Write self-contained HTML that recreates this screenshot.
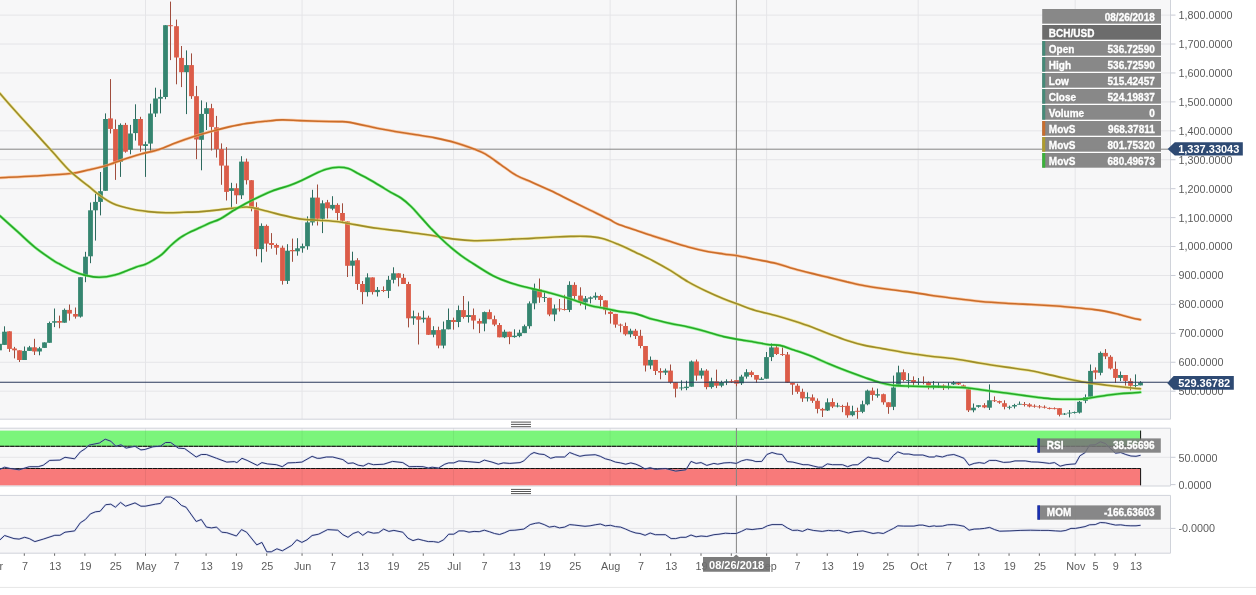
<!DOCTYPE html>
<html><head><meta charset="utf-8"><title>BCH/USD</title>
<style>html,body{margin:0;padding:0;background:#fff;}body{width:1256px;height:595px;overflow:hidden;font-family:"Liberation Sans",sans-serif;}svg{display:block;filter:blur(0.3px)}text{font-family:"Liberation Sans",sans-serif;}</style>
</head><body>
<svg width="1256" height="595" viewBox="0 0 1256 595">
<defs>
<clipPath id="cm"><rect x="0" y="0" width="1170.5" height="419"/></clipPath>
<clipPath id="cr"><rect x="0" y="428" width="1170.5" height="58"/></clipPath>
<clipPath id="co"><rect x="0" y="495.5" width="1170.5" height="57.5"/></clipPath>
<filter id="bl" x="-5%" y="-5%" width="110%" height="110%"><feGaussianBlur stdDeviation="0.3"/></filter>
</defs>
<rect x="0" y="0" width="1256" height="595" fill="#ffffff"/>
<rect x="0" y="0" width="1170.5" height="419" fill="#f7f7f8"/>
<rect x="0" y="428" width="1170.5" height="58" fill="#f7f7f8"/>
<rect x="0" y="495.5" width="1170.5" height="57.5" fill="#f7f7f8"/>
<g stroke="#e5e5e8" stroke-width="1" fill="none">
<line x1="0" y1="15.10" x2="1170.5" y2="15.10"/>
<line x1="0" y1="44.03" x2="1170.5" y2="44.03"/>
<line x1="0" y1="72.96" x2="1170.5" y2="72.96"/>
<line x1="0" y1="101.89" x2="1170.5" y2="101.89"/>
<line x1="0" y1="130.82" x2="1170.5" y2="130.82"/>
<line x1="0" y1="159.75" x2="1170.5" y2="159.75"/>
<line x1="0" y1="188.68" x2="1170.5" y2="188.68"/>
<line x1="0" y1="217.61" x2="1170.5" y2="217.61"/>
<line x1="0" y1="246.54" x2="1170.5" y2="246.54"/>
<line x1="0" y1="275.47" x2="1170.5" y2="275.47"/>
<line x1="0" y1="304.40" x2="1170.5" y2="304.40"/>
<line x1="0" y1="333.33" x2="1170.5" y2="333.33"/>
<line x1="0" y1="362.26" x2="1170.5" y2="362.26"/>
<line x1="0" y1="391.19" x2="1170.5" y2="391.19"/>
<line x1="145.50" y1="0" x2="145.50" y2="419"/>
<line x1="145.50" y1="428" x2="145.50" y2="486"/>
<line x1="145.50" y1="495.5" x2="145.50" y2="553"/>
<line x1="302.05" y1="0" x2="302.05" y2="419"/>
<line x1="302.05" y1="428" x2="302.05" y2="486"/>
<line x1="302.05" y1="495.5" x2="302.05" y2="553"/>
<line x1="453.55" y1="0" x2="453.55" y2="419"/>
<line x1="453.55" y1="428" x2="453.55" y2="486"/>
<line x1="453.55" y1="495.5" x2="453.55" y2="553"/>
<line x1="610.10" y1="0" x2="610.10" y2="419"/>
<line x1="610.10" y1="428" x2="610.10" y2="486"/>
<line x1="610.10" y1="495.5" x2="610.10" y2="553"/>
<line x1="766.65" y1="0" x2="766.65" y2="419"/>
<line x1="766.65" y1="428" x2="766.65" y2="486"/>
<line x1="766.65" y1="495.5" x2="766.65" y2="553"/>
<line x1="918.15" y1="0" x2="918.15" y2="419"/>
<line x1="918.15" y1="428" x2="918.15" y2="486"/>
<line x1="918.15" y1="495.5" x2="918.15" y2="553"/>
<line x1="1075.20" y1="0" x2="1075.20" y2="419"/>
<line x1="1075.20" y1="428" x2="1075.20" y2="486"/>
<line x1="1075.20" y1="495.5" x2="1075.20" y2="553"/>
<line x1="0" y1="457.3" x2="1170.5" y2="457.3"/>
<line x1="0" y1="528.4" x2="1170.5" y2="528.4"/>
</g>
<g stroke="#d0d3da" stroke-width="1" fill="none">
<line x1="0" y1="419.2" x2="1170.5" y2="419.2"/>
<line x1="1170.5" y1="0" x2="1170.5" y2="419.2"/>
<line x1="0" y1="428.2" x2="1170.5" y2="428.2"/>
<line x1="0" y1="486" x2="1170.5" y2="486"/>
<line x1="1170.5" y1="428.2" x2="1170.5" y2="486"/>
<line x1="0" y1="495.4" x2="1170.5" y2="495.4"/>
<line x1="0" y1="553.2" x2="1170.5" y2="553.2"/>
<line x1="1170.5" y1="495.4" x2="1170.5" y2="553.2"/>
</g>
<rect x="0" y="430.6" width="1140.6" height="15.7" fill="#7bf57b"/>
<rect x="0" y="468.5" width="1140.6" height="16.8" fill="#f87a7a"/>
<g stroke="#000" stroke-opacity="0.06" stroke-width="1">
<line x1="145.50" y1="430.6" x2="145.50" y2="446.3"/>
<line x1="145.50" y1="468.5" x2="145.50" y2="485.3"/>
<line x1="302.05" y1="430.6" x2="302.05" y2="446.3"/>
<line x1="302.05" y1="468.5" x2="302.05" y2="485.3"/>
<line x1="453.55" y1="430.6" x2="453.55" y2="446.3"/>
<line x1="453.55" y1="468.5" x2="453.55" y2="485.3"/>
<line x1="610.10" y1="430.6" x2="610.10" y2="446.3"/>
<line x1="610.10" y1="468.5" x2="610.10" y2="485.3"/>
<line x1="766.65" y1="430.6" x2="766.65" y2="446.3"/>
<line x1="766.65" y1="468.5" x2="766.65" y2="485.3"/>
<line x1="918.15" y1="430.6" x2="918.15" y2="446.3"/>
<line x1="918.15" y1="468.5" x2="918.15" y2="485.3"/>
<line x1="1075.20" y1="430.6" x2="1075.20" y2="446.3"/>
<line x1="1075.20" y1="468.5" x2="1075.20" y2="485.3"/>
</g>
<g stroke="#111" stroke-width="1">
<line x1="0" y1="446.3" x2="1140.6" y2="446.3" stroke-opacity="0.6"/>
<line x1="0" y1="468.5" x2="1140.6" y2="468.5" stroke-opacity="0.6"/>
<line x1="0" y1="446.3" x2="1140.6" y2="446.3" stroke-dasharray="4.3 0.8"/>
<line x1="0" y1="468.5" x2="1140.6" y2="468.5" stroke-dasharray="4.3 0.8"/>
<line x1="1140.6" y1="430.6" x2="1140.6" y2="446.3"/>
<line x1="1140.6" y1="468.5" x2="1140.6" y2="485.3"/>
</g>
<g stroke="#858585" stroke-width="1">
<line x1="0" y1="149.2" x2="1168" y2="149.2"/>
<line x1="736.4" y1="0" x2="736.4" y2="419"/>
<line x1="736.4" y1="428" x2="736.4" y2="486"/>
<line x1="736.4" y1="495.5" x2="736.4" y2="553"/>
</g>
<g clip-path="url(#cm)">
<line x1="-0.50" y1="343.8" x2="-0.50" y2="350.3" stroke="#2d6a5e" stroke-width="1"/>
<line x1="4.50" y1="326.3" x2="4.50" y2="344.9" stroke="#2d6a5e" stroke-width="1"/>
<line x1="9.50" y1="331.3" x2="9.50" y2="351.9" stroke="#a04d3e" stroke-width="1"/>
<line x1="14.50" y1="346.9" x2="14.50" y2="358.4" stroke="#a04d3e" stroke-width="1"/>
<line x1="19.50" y1="350.3" x2="19.50" y2="362.0" stroke="#a04d3e" stroke-width="1"/>
<line x1="24.50" y1="346.5" x2="24.50" y2="360.0" stroke="#2d6a5e" stroke-width="1"/>
<line x1="29.50" y1="345.9" x2="29.50" y2="350.9" stroke="#2d6a5e" stroke-width="1"/>
<line x1="34.50" y1="338.8" x2="34.50" y2="355.0" stroke="#a04d3e" stroke-width="1"/>
<line x1="39.50" y1="346.9" x2="39.50" y2="355.3" stroke="#2d6a5e" stroke-width="1"/>
<line x1="44.50" y1="342.4" x2="44.50" y2="347.9" stroke="#2d6a5e" stroke-width="1"/>
<line x1="49.50" y1="321.6" x2="49.50" y2="342.8" stroke="#2d6a5e" stroke-width="1"/>
<line x1="54.50" y1="308.5" x2="54.50" y2="327.1" stroke="#2d6a5e" stroke-width="1"/>
<line x1="59.50" y1="315.6" x2="59.50" y2="328.3" stroke="#a04d3e" stroke-width="1"/>
<line x1="64.50" y1="308.5" x2="64.50" y2="322.7" stroke="#2d6a5e" stroke-width="1"/>
<line x1="69.50" y1="304.5" x2="69.50" y2="320.6" stroke="#a04d3e" stroke-width="1"/>
<line x1="75.50" y1="307.5" x2="75.50" y2="318.6" stroke="#a04d3e" stroke-width="1"/>
<line x1="80.50" y1="277.2" x2="80.50" y2="317.6" stroke="#2d6a5e" stroke-width="1"/>
<line x1="85.50" y1="251.8" x2="85.50" y2="282.2" stroke="#2d6a5e" stroke-width="1"/>
<line x1="90.50" y1="202.5" x2="90.50" y2="263.2" stroke="#2d6a5e" stroke-width="1"/>
<line x1="95.50" y1="193.8" x2="95.50" y2="240.6" stroke="#2d6a5e" stroke-width="1"/>
<line x1="100.50" y1="172.0" x2="100.50" y2="215.4" stroke="#2d6a5e" stroke-width="1"/>
<line x1="105.50" y1="113.4" x2="105.50" y2="190.8" stroke="#2d6a5e" stroke-width="1"/>
<line x1="110.50" y1="79.1" x2="110.50" y2="133.5" stroke="#a04d3e" stroke-width="1"/>
<line x1="115.50" y1="119.5" x2="115.50" y2="179.9" stroke="#a04d3e" stroke-width="1"/>
<line x1="120.50" y1="123.4" x2="120.50" y2="176.9" stroke="#2d6a5e" stroke-width="1"/>
<line x1="125.50" y1="122.9" x2="125.50" y2="152.7" stroke="#a04d3e" stroke-width="1"/>
<line x1="130.50" y1="124.9" x2="130.50" y2="154.3" stroke="#2d6a5e" stroke-width="1"/>
<line x1="135.50" y1="104.3" x2="135.50" y2="140.6" stroke="#2d6a5e" stroke-width="1"/>
<line x1="140.50" y1="116.8" x2="140.50" y2="151.7" stroke="#a04d3e" stroke-width="1"/>
<line x1="145.50" y1="141.6" x2="145.50" y2="176.9" stroke="#2d6a5e" stroke-width="1"/>
<line x1="150.50" y1="103.7" x2="150.50" y2="151.7" stroke="#2d6a5e" stroke-width="1"/>
<line x1="155.50" y1="87.7" x2="155.50" y2="117.0" stroke="#2d6a5e" stroke-width="1"/>
<line x1="160.50" y1="89.5" x2="160.50" y2="113.4" stroke="#2d6a5e" stroke-width="1"/>
<line x1="165.50" y1="25.2" x2="165.50" y2="99.2" stroke="#2d6a5e" stroke-width="1"/>
<line x1="170.50" y1="1.6" x2="170.50" y2="60.1" stroke="#a04d3e" stroke-width="1"/>
<line x1="176.50" y1="19.6" x2="176.50" y2="84.3" stroke="#a04d3e" stroke-width="1"/>
<line x1="181.50" y1="46.0" x2="181.50" y2="87.1" stroke="#a04d3e" stroke-width="1"/>
<line x1="186.50" y1="50.4" x2="186.50" y2="114.1" stroke="#2d6a5e" stroke-width="1"/>
<line x1="191.50" y1="53.4" x2="191.50" y2="98.9" stroke="#a04d3e" stroke-width="1"/>
<line x1="196.50" y1="85.9" x2="196.50" y2="159.2" stroke="#a04d3e" stroke-width="1"/>
<line x1="201.50" y1="100.4" x2="201.50" y2="170.3" stroke="#2d6a5e" stroke-width="1"/>
<line x1="206.50" y1="102.3" x2="206.50" y2="130.0" stroke="#2d6a5e" stroke-width="1"/>
<line x1="211.50" y1="103.8" x2="211.50" y2="150.5" stroke="#a04d3e" stroke-width="1"/>
<line x1="216.50" y1="115.9" x2="216.50" y2="157.6" stroke="#a04d3e" stroke-width="1"/>
<line x1="221.50" y1="143.4" x2="221.50" y2="184.8" stroke="#a04d3e" stroke-width="1"/>
<line x1="226.50" y1="147.1" x2="226.50" y2="200.5" stroke="#a04d3e" stroke-width="1"/>
<line x1="231.50" y1="182.8" x2="231.50" y2="209.2" stroke="#2d6a5e" stroke-width="1"/>
<line x1="236.50" y1="183.4" x2="236.50" y2="203.9" stroke="#a04d3e" stroke-width="1"/>
<line x1="241.50" y1="156.2" x2="241.50" y2="199.0" stroke="#2d6a5e" stroke-width="1"/>
<line x1="246.50" y1="158.6" x2="246.50" y2="184.5" stroke="#a04d3e" stroke-width="1"/>
<line x1="251.50" y1="180.2" x2="251.50" y2="211.3" stroke="#a04d3e" stroke-width="1"/>
<line x1="256.50" y1="202.3" x2="256.50" y2="256.3" stroke="#a04d3e" stroke-width="1"/>
<line x1="261.50" y1="223.4" x2="261.50" y2="262.4" stroke="#2d6a5e" stroke-width="1"/>
<line x1="266.50" y1="224.5" x2="266.50" y2="251.7" stroke="#a04d3e" stroke-width="1"/>
<line x1="271.50" y1="233.1" x2="271.50" y2="248.7" stroke="#a04d3e" stroke-width="1"/>
<line x1="276.50" y1="243.6" x2="276.50" y2="254.7" stroke="#a04d3e" stroke-width="1"/>
<line x1="282.50" y1="245.6" x2="282.50" y2="284.6" stroke="#a04d3e" stroke-width="1"/>
<line x1="287.50" y1="244.2" x2="287.50" y2="284.0" stroke="#2d6a5e" stroke-width="1"/>
<line x1="292.50" y1="238.6" x2="292.50" y2="261.8" stroke="#a04d3e" stroke-width="1"/>
<line x1="297.50" y1="238.2" x2="297.50" y2="255.7" stroke="#2d6a5e" stroke-width="1"/>
<line x1="302.50" y1="243.6" x2="302.50" y2="252.7" stroke="#2d6a5e" stroke-width="1"/>
<line x1="307.50" y1="216.4" x2="307.50" y2="249.7" stroke="#2d6a5e" stroke-width="1"/>
<line x1="312.50" y1="189.8" x2="312.50" y2="225.5" stroke="#2d6a5e" stroke-width="1"/>
<line x1="317.50" y1="184.5" x2="317.50" y2="225.5" stroke="#a04d3e" stroke-width="1"/>
<line x1="322.50" y1="200.3" x2="322.50" y2="233.1" stroke="#2d6a5e" stroke-width="1"/>
<line x1="327.50" y1="199.9" x2="327.50" y2="218.4" stroke="#a04d3e" stroke-width="1"/>
<line x1="332.50" y1="196.2" x2="332.50" y2="210.3" stroke="#2d6a5e" stroke-width="1"/>
<line x1="337.50" y1="203.3" x2="337.50" y2="220.4" stroke="#a04d3e" stroke-width="1"/>
<line x1="342.50" y1="203.3" x2="342.50" y2="222.4" stroke="#a04d3e" stroke-width="1"/>
<line x1="347.50" y1="221.4" x2="347.50" y2="277.0" stroke="#a04d3e" stroke-width="1"/>
<line x1="352.50" y1="251.7" x2="352.50" y2="276.3" stroke="#2d6a5e" stroke-width="1"/>
<line x1="357.50" y1="258.2" x2="357.50" y2="289.9" stroke="#a04d3e" stroke-width="1"/>
<line x1="362.50" y1="281.0" x2="362.50" y2="304.2" stroke="#a04d3e" stroke-width="1"/>
<line x1="367.50" y1="273.3" x2="367.50" y2="296.5" stroke="#2d6a5e" stroke-width="1"/>
<line x1="372.50" y1="277.4" x2="372.50" y2="294.5" stroke="#a04d3e" stroke-width="1"/>
<line x1="377.50" y1="287.0" x2="377.50" y2="296.5" stroke="#2d6a5e" stroke-width="1"/>
<line x1="383.50" y1="286.4" x2="383.50" y2="292.1" stroke="#a04d3e" stroke-width="1"/>
<line x1="388.50" y1="275.9" x2="388.50" y2="298.1" stroke="#2d6a5e" stroke-width="1"/>
<line x1="393.50" y1="267.3" x2="393.50" y2="283.4" stroke="#2d6a5e" stroke-width="1"/>
<line x1="398.50" y1="273.3" x2="398.50" y2="286.4" stroke="#a04d3e" stroke-width="1"/>
<line x1="403.50" y1="273.9" x2="403.50" y2="284.0" stroke="#a04d3e" stroke-width="1"/>
<line x1="408.50" y1="281.8" x2="408.50" y2="327.4" stroke="#a04d3e" stroke-width="1"/>
<line x1="413.50" y1="310.6" x2="413.50" y2="324.8" stroke="#2d6a5e" stroke-width="1"/>
<line x1="418.50" y1="312.7" x2="418.50" y2="344.5" stroke="#a04d3e" stroke-width="1"/>
<line x1="423.50" y1="310.6" x2="423.50" y2="322.7" stroke="#2d6a5e" stroke-width="1"/>
<line x1="428.50" y1="315.7" x2="428.50" y2="334.8" stroke="#a04d3e" stroke-width="1"/>
<line x1="433.50" y1="326.2" x2="433.50" y2="337.3" stroke="#2d6a5e" stroke-width="1"/>
<line x1="438.50" y1="326.7" x2="438.50" y2="348.3" stroke="#a04d3e" stroke-width="1"/>
<line x1="443.50" y1="321.5" x2="443.50" y2="348.4" stroke="#2d6a5e" stroke-width="1"/>
<line x1="448.50" y1="308.5" x2="448.50" y2="329.3" stroke="#2d6a5e" stroke-width="1"/>
<line x1="453.50" y1="317.6" x2="453.50" y2="329.7" stroke="#a04d3e" stroke-width="1"/>
<line x1="458.50" y1="305.5" x2="458.50" y2="327.2" stroke="#2d6a5e" stroke-width="1"/>
<line x1="463.50" y1="296.0" x2="463.50" y2="318.6" stroke="#a04d3e" stroke-width="1"/>
<line x1="468.50" y1="301.4" x2="468.50" y2="322.6" stroke="#2d6a5e" stroke-width="1"/>
<line x1="473.50" y1="308.5" x2="473.50" y2="329.3" stroke="#a04d3e" stroke-width="1"/>
<line x1="479.50" y1="318.6" x2="479.50" y2="333.1" stroke="#a04d3e" stroke-width="1"/>
<line x1="484.50" y1="311.5" x2="484.50" y2="331.3" stroke="#2d6a5e" stroke-width="1"/>
<line x1="489.50" y1="309.5" x2="489.50" y2="319.2" stroke="#a04d3e" stroke-width="1"/>
<line x1="494.50" y1="315.6" x2="494.50" y2="326.2" stroke="#a04d3e" stroke-width="1"/>
<line x1="499.50" y1="323.0" x2="499.50" y2="337.3" stroke="#a04d3e" stroke-width="1"/>
<line x1="504.50" y1="329.7" x2="504.50" y2="338.1" stroke="#2d6a5e" stroke-width="1"/>
<line x1="509.50" y1="331.7" x2="509.50" y2="344.2" stroke="#a04d3e" stroke-width="1"/>
<line x1="514.50" y1="329.3" x2="514.50" y2="337.7" stroke="#2d6a5e" stroke-width="1"/>
<line x1="519.50" y1="329.7" x2="519.50" y2="337.3" stroke="#2d6a5e" stroke-width="1"/>
<line x1="524.50" y1="324.6" x2="524.50" y2="333.1" stroke="#2d6a5e" stroke-width="1"/>
<line x1="529.50" y1="301.4" x2="529.50" y2="328.7" stroke="#2d6a5e" stroke-width="1"/>
<line x1="534.50" y1="283.6" x2="534.50" y2="309.3" stroke="#2d6a5e" stroke-width="1"/>
<line x1="539.50" y1="278.5" x2="539.50" y2="302.8" stroke="#a04d3e" stroke-width="1"/>
<line x1="544.50" y1="292.0" x2="544.50" y2="302.0" stroke="#2d6a5e" stroke-width="1"/>
<line x1="549.50" y1="297.8" x2="549.50" y2="316.2" stroke="#a04d3e" stroke-width="1"/>
<line x1="554.50" y1="304.5" x2="554.50" y2="321.2" stroke="#2d6a5e" stroke-width="1"/>
<line x1="559.50" y1="299.0" x2="559.50" y2="311.5" stroke="#a04d3e" stroke-width="1"/>
<line x1="564.50" y1="294.8" x2="564.50" y2="310.5" stroke="#a04d3e" stroke-width="1"/>
<line x1="569.50" y1="281.3" x2="569.50" y2="312.1" stroke="#2d6a5e" stroke-width="1"/>
<line x1="574.50" y1="282.3" x2="574.50" y2="299.4" stroke="#a04d3e" stroke-width="1"/>
<line x1="580.50" y1="287.3" x2="580.50" y2="305.5" stroke="#a04d3e" stroke-width="1"/>
<line x1="585.50" y1="296.0" x2="585.50" y2="309.5" stroke="#2d6a5e" stroke-width="1"/>
<line x1="590.50" y1="296.4" x2="590.50" y2="303.4" stroke="#2d6a5e" stroke-width="1"/>
<line x1="595.50" y1="292.4" x2="595.50" y2="299.8" stroke="#2d6a5e" stroke-width="1"/>
<line x1="600.50" y1="294.8" x2="600.50" y2="306.9" stroke="#a04d3e" stroke-width="1"/>
<line x1="605.50" y1="300.4" x2="605.50" y2="314.5" stroke="#a04d3e" stroke-width="1"/>
<line x1="610.50" y1="310.5" x2="610.50" y2="323.6" stroke="#a04d3e" stroke-width="1"/>
<line x1="615.50" y1="313.9" x2="615.50" y2="327.7" stroke="#a04d3e" stroke-width="1"/>
<line x1="620.50" y1="323.6" x2="620.50" y2="332.3" stroke="#a04d3e" stroke-width="1"/>
<line x1="625.50" y1="322.6" x2="625.50" y2="335.7" stroke="#a04d3e" stroke-width="1"/>
<line x1="630.50" y1="328.7" x2="630.50" y2="337.3" stroke="#2d6a5e" stroke-width="1"/>
<line x1="635.50" y1="328.9" x2="635.50" y2="339.0" stroke="#a04d3e" stroke-width="1"/>
<line x1="640.50" y1="329.8" x2="640.50" y2="348.3" stroke="#a04d3e" stroke-width="1"/>
<line x1="645.50" y1="346.0" x2="645.50" y2="371.5" stroke="#a04d3e" stroke-width="1"/>
<line x1="650.50" y1="356.5" x2="650.50" y2="369.2" stroke="#2d6a5e" stroke-width="1"/>
<line x1="655.50" y1="359.9" x2="655.50" y2="375.0" stroke="#a04d3e" stroke-width="1"/>
<line x1="660.50" y1="368.2" x2="660.50" y2="379.3" stroke="#a04d3e" stroke-width="1"/>
<line x1="665.50" y1="368.6" x2="665.50" y2="375.0" stroke="#2d6a5e" stroke-width="1"/>
<line x1="670.50" y1="364.5" x2="670.50" y2="383.7" stroke="#a04d3e" stroke-width="1"/>
<line x1="675.50" y1="382.3" x2="675.50" y2="397.4" stroke="#a04d3e" stroke-width="1"/>
<line x1="681.50" y1="380.3" x2="681.50" y2="390.4" stroke="#2d6a5e" stroke-width="1"/>
<line x1="686.50" y1="380.7" x2="686.50" y2="390.2" stroke="#2d6a5e" stroke-width="1"/>
<line x1="691.50" y1="360.5" x2="691.50" y2="386.7" stroke="#2d6a5e" stroke-width="1"/>
<line x1="696.50" y1="359.5" x2="696.50" y2="380.7" stroke="#a04d3e" stroke-width="1"/>
<line x1="701.50" y1="368.2" x2="701.50" y2="378.7" stroke="#2d6a5e" stroke-width="1"/>
<line x1="706.50" y1="369.2" x2="706.50" y2="389.3" stroke="#a04d3e" stroke-width="1"/>
<line x1="711.50" y1="377.7" x2="711.50" y2="388.7" stroke="#2d6a5e" stroke-width="1"/>
<line x1="716.50" y1="369.6" x2="716.50" y2="388.1" stroke="#a04d3e" stroke-width="1"/>
<line x1="721.50" y1="380.7" x2="721.50" y2="387.3" stroke="#2d6a5e" stroke-width="1"/>
<line x1="726.50" y1="379.3" x2="726.50" y2="385.1" stroke="#2d6a5e" stroke-width="1"/>
<line x1="731.50" y1="379.3" x2="731.50" y2="382.7" stroke="#a04d3e" stroke-width="1"/>
<line x1="736.50" y1="380.1" x2="736.50" y2="386.2" stroke="#a04d3e" stroke-width="1"/>
<line x1="741.50" y1="374.8" x2="741.50" y2="385.0" stroke="#2d6a5e" stroke-width="1"/>
<line x1="746.50" y1="369.2" x2="746.50" y2="378.7" stroke="#2d6a5e" stroke-width="1"/>
<line x1="751.50" y1="370.6" x2="751.50" y2="377.2" stroke="#a04d3e" stroke-width="1"/>
<line x1="756.50" y1="375.0" x2="756.50" y2="382.7" stroke="#a04d3e" stroke-width="1"/>
<line x1="761.50" y1="377.2" x2="761.50" y2="379.9" stroke="#2d6a5e" stroke-width="1"/>
<line x1="766.50" y1="352.0" x2="766.50" y2="378.7" stroke="#2d6a5e" stroke-width="1"/>
<line x1="771.50" y1="343.4" x2="771.50" y2="361.1" stroke="#2d6a5e" stroke-width="1"/>
<line x1="776.50" y1="346.0" x2="776.50" y2="355.0" stroke="#a04d3e" stroke-width="1"/>
<line x1="782.50" y1="347.4" x2="782.50" y2="355.9" stroke="#a04d3e" stroke-width="1"/>
<line x1="787.50" y1="352.0" x2="787.50" y2="382.7" stroke="#a04d3e" stroke-width="1"/>
<line x1="792.50" y1="382.7" x2="792.50" y2="394.8" stroke="#a04d3e" stroke-width="1"/>
<line x1="797.50" y1="383.7" x2="797.50" y2="393.8" stroke="#a04d3e" stroke-width="1"/>
<line x1="802.50" y1="388.7" x2="802.50" y2="401.9" stroke="#a04d3e" stroke-width="1"/>
<line x1="807.50" y1="392.4" x2="807.50" y2="401.5" stroke="#2d6a5e" stroke-width="1"/>
<line x1="812.50" y1="394.4" x2="812.50" y2="402.9" stroke="#a04d3e" stroke-width="1"/>
<line x1="817.50" y1="398.4" x2="817.50" y2="413.4" stroke="#a04d3e" stroke-width="1"/>
<line x1="822.50" y1="407.9" x2="822.50" y2="417.0" stroke="#a04d3e" stroke-width="1"/>
<line x1="827.50" y1="398.4" x2="827.50" y2="411.0" stroke="#2d6a5e" stroke-width="1"/>
<line x1="832.50" y1="398.3" x2="832.50" y2="408.1" stroke="#a04d3e" stroke-width="1"/>
<line x1="837.50" y1="402.8" x2="837.50" y2="407.4" stroke="#2d6a5e" stroke-width="1"/>
<line x1="842.50" y1="404.8" x2="842.50" y2="412.2" stroke="#a04d3e" stroke-width="1"/>
<line x1="847.50" y1="402.4" x2="847.50" y2="417.7" stroke="#a04d3e" stroke-width="1"/>
<line x1="852.50" y1="405.7" x2="852.50" y2="416.4" stroke="#2d6a5e" stroke-width="1"/>
<line x1="857.50" y1="407.7" x2="857.50" y2="418.8" stroke="#a04d3e" stroke-width="1"/>
<line x1="862.50" y1="400.7" x2="862.50" y2="413.2" stroke="#2d6a5e" stroke-width="1"/>
<line x1="867.50" y1="389.6" x2="867.50" y2="405.3" stroke="#2d6a5e" stroke-width="1"/>
<line x1="872.50" y1="387.6" x2="872.50" y2="400.7" stroke="#a04d3e" stroke-width="1"/>
<line x1="877.50" y1="388.6" x2="877.50" y2="397.7" stroke="#2d6a5e" stroke-width="1"/>
<line x1="883.50" y1="393.6" x2="883.50" y2="404.7" stroke="#a04d3e" stroke-width="1"/>
<line x1="888.50" y1="402.3" x2="888.50" y2="413.8" stroke="#a04d3e" stroke-width="1"/>
<line x1="893.50" y1="375.6" x2="893.50" y2="410.1" stroke="#2d6a5e" stroke-width="1"/>
<line x1="898.50" y1="365.7" x2="898.50" y2="385.5" stroke="#2d6a5e" stroke-width="1"/>
<line x1="903.50" y1="369.4" x2="903.50" y2="381.5" stroke="#a04d3e" stroke-width="1"/>
<line x1="908.50" y1="373.2" x2="908.50" y2="388.2" stroke="#2d6a5e" stroke-width="1"/>
<line x1="913.50" y1="376.4" x2="913.50" y2="385.6" stroke="#a04d3e" stroke-width="1"/>
<line x1="918.50" y1="378.0" x2="918.50" y2="385.4" stroke="#2d6a5e" stroke-width="1"/>
<line x1="923.50" y1="376.4" x2="923.50" y2="384.4" stroke="#a04d3e" stroke-width="1"/>
<line x1="928.50" y1="381.5" x2="928.50" y2="389.4" stroke="#a04d3e" stroke-width="1"/>
<line x1="933.50" y1="381.0" x2="933.50" y2="389.4" stroke="#2d6a5e" stroke-width="1"/>
<line x1="938.50" y1="382.6" x2="938.50" y2="388.0" stroke="#2d6a5e" stroke-width="1"/>
<line x1="943.50" y1="384.4" x2="943.50" y2="390.0" stroke="#a04d3e" stroke-width="1"/>
<line x1="948.50" y1="382.6" x2="948.50" y2="389.4" stroke="#2d6a5e" stroke-width="1"/>
<line x1="953.50" y1="381.1" x2="953.50" y2="385.0" stroke="#2d6a5e" stroke-width="1"/>
<line x1="958.50" y1="382.0" x2="958.50" y2="385.0" stroke="#a04d3e" stroke-width="1"/>
<line x1="963.50" y1="384.6" x2="963.50" y2="388.0" stroke="#a04d3e" stroke-width="1"/>
<line x1="968.50" y1="388.1" x2="968.50" y2="412.0" stroke="#a04d3e" stroke-width="1"/>
<line x1="973.50" y1="403.5" x2="973.50" y2="412.3" stroke="#2d6a5e" stroke-width="1"/>
<line x1="978.50" y1="405.2" x2="978.50" y2="407.7" stroke="#2d6a5e" stroke-width="1"/>
<line x1="984.50" y1="403.2" x2="984.50" y2="408.2" stroke="#a04d3e" stroke-width="1"/>
<line x1="989.50" y1="384.4" x2="989.50" y2="410.0" stroke="#2d6a5e" stroke-width="1"/>
<line x1="994.50" y1="396.4" x2="994.50" y2="402.0" stroke="#a04d3e" stroke-width="1"/>
<line x1="999.50" y1="400.6" x2="999.50" y2="403.8" stroke="#a04d3e" stroke-width="1"/>
<line x1="1004.50" y1="400.3" x2="1004.50" y2="409.4" stroke="#a04d3e" stroke-width="1"/>
<line x1="1009.50" y1="405.6" x2="1009.50" y2="409.4" stroke="#2d6a5e" stroke-width="1"/>
<line x1="1014.50" y1="403.8" x2="1014.50" y2="408.5" stroke="#2d6a5e" stroke-width="1"/>
<line x1="1019.50" y1="401.5" x2="1019.50" y2="404.6" stroke="#2d6a5e" stroke-width="1"/>
<line x1="1024.50" y1="402.0" x2="1024.50" y2="406.5" stroke="#a04d3e" stroke-width="1"/>
<line x1="1029.50" y1="403.2" x2="1029.50" y2="407.4" stroke="#a04d3e" stroke-width="1"/>
<line x1="1034.50" y1="404.4" x2="1034.50" y2="407.7" stroke="#a04d3e" stroke-width="1"/>
<line x1="1039.50" y1="405.0" x2="1039.50" y2="408.5" stroke="#a04d3e" stroke-width="1"/>
<line x1="1044.50" y1="405.4" x2="1044.50" y2="408.5" stroke="#a04d3e" stroke-width="1"/>
<line x1="1049.50" y1="407.4" x2="1049.50" y2="409.4" stroke="#a04d3e" stroke-width="1"/>
<line x1="1054.50" y1="407.4" x2="1054.50" y2="409.4" stroke="#a04d3e" stroke-width="1"/>
<line x1="1059.50" y1="408.2" x2="1059.50" y2="416.4" stroke="#a04d3e" stroke-width="1"/>
<line x1="1064.50" y1="413.0" x2="1064.50" y2="415.0" stroke="#2d6a5e" stroke-width="1"/>
<line x1="1069.50" y1="410.0" x2="1069.50" y2="417.4" stroke="#2d6a5e" stroke-width="1"/>
<line x1="1074.50" y1="411.5" x2="1074.50" y2="413.6" stroke="#2d6a5e" stroke-width="1"/>
<line x1="1079.50" y1="400.9" x2="1079.50" y2="413.5" stroke="#2d6a5e" stroke-width="1"/>
<line x1="1085.50" y1="394.4" x2="1085.50" y2="403.2" stroke="#2d6a5e" stroke-width="1"/>
<line x1="1090.50" y1="364.5" x2="1090.50" y2="396.8" stroke="#2d6a5e" stroke-width="1"/>
<line x1="1095.50" y1="367.4" x2="1095.50" y2="379.3" stroke="#a04d3e" stroke-width="1"/>
<line x1="1100.50" y1="351.5" x2="1100.50" y2="375.3" stroke="#2d6a5e" stroke-width="1"/>
<line x1="1105.50" y1="349.1" x2="1105.50" y2="359.1" stroke="#a04d3e" stroke-width="1"/>
<line x1="1110.50" y1="355.2" x2="1110.50" y2="369.5" stroke="#a04d3e" stroke-width="1"/>
<line x1="1115.50" y1="361.5" x2="1115.50" y2="383.0" stroke="#a04d3e" stroke-width="1"/>
<line x1="1120.50" y1="371.5" x2="1120.50" y2="381.1" stroke="#2d6a5e" stroke-width="1"/>
<line x1="1125.50" y1="375.0" x2="1125.50" y2="385.6" stroke="#a04d3e" stroke-width="1"/>
<line x1="1130.50" y1="378.3" x2="1130.50" y2="390.3" stroke="#a04d3e" stroke-width="1"/>
<line x1="1135.50" y1="374.4" x2="1135.50" y2="388.9" stroke="#2d6a5e" stroke-width="1"/>
<line x1="1140.50" y1="381.2" x2="1140.50" y2="385.4" stroke="#2d6a5e" stroke-width="1"/>
<g filter="url(#bl)">
<rect x="-2.90" y="343.8" width="4.8" height="6.5" fill="#35856f"/>
<rect x="2.10" y="331.7" width="4.8" height="13.2" fill="#35856f"/>
<rect x="7.10" y="331.3" width="4.8" height="17.6" fill="#dc5b48"/>
<rect x="12.10" y="348.5" width="4.8" height="1.8" fill="#dc5b48"/>
<rect x="17.10" y="350.3" width="4.8" height="9.7" fill="#dc5b48"/>
<rect x="22.10" y="350.9" width="4.8" height="9.1" fill="#35856f"/>
<rect x="27.10" y="347.3" width="4.8" height="3.6" fill="#35856f"/>
<rect x="32.10" y="347.3" width="4.8" height="4.2" fill="#dc5b48"/>
<rect x="37.10" y="348.3" width="4.8" height="3.2" fill="#35856f"/>
<rect x="42.10" y="342.4" width="4.8" height="5.5" fill="#35856f"/>
<rect x="47.10" y="323.0" width="4.8" height="19.8" fill="#35856f"/>
<rect x="52.10" y="321.2" width="4.8" height="1.5" fill="#35856f"/>
<rect x="57.10" y="321.0" width="4.8" height="1.7" fill="#dc5b48"/>
<rect x="62.10" y="309.9" width="4.8" height="12.8" fill="#35856f"/>
<rect x="67.10" y="309.9" width="4.8" height="3.7" fill="#dc5b48"/>
<rect x="73.10" y="314.0" width="4.8" height="2.6" fill="#dc5b48"/>
<rect x="78.10" y="277.2" width="4.8" height="39.4" fill="#35856f"/>
<rect x="83.10" y="256.7" width="4.8" height="19.3" fill="#35856f"/>
<rect x="88.10" y="210.3" width="4.8" height="46.0" fill="#35856f"/>
<rect x="93.10" y="201.9" width="4.8" height="8.4" fill="#35856f"/>
<rect x="98.10" y="191.2" width="4.8" height="10.7" fill="#35856f"/>
<rect x="103.10" y="119.0" width="4.8" height="71.8" fill="#35856f"/>
<rect x="108.10" y="118.4" width="4.8" height="10.5" fill="#dc5b48"/>
<rect x="113.10" y="129.1" width="4.8" height="32.7" fill="#dc5b48"/>
<rect x="118.10" y="124.9" width="4.8" height="36.9" fill="#35856f"/>
<rect x="123.10" y="124.9" width="4.8" height="26.8" fill="#dc5b48"/>
<rect x="128.10" y="133.5" width="4.8" height="16.2" fill="#35856f"/>
<rect x="133.10" y="119.0" width="4.8" height="14.1" fill="#35856f"/>
<rect x="138.10" y="119.0" width="4.8" height="26.6" fill="#dc5b48"/>
<rect x="143.10" y="144.2" width="4.8" height="1.8" fill="#35856f"/>
<rect x="148.10" y="113.5" width="4.8" height="30.1" fill="#35856f"/>
<rect x="153.10" y="98.5" width="4.8" height="15.0" fill="#35856f"/>
<rect x="158.10" y="96.9" width="4.8" height="1.8" fill="#35856f"/>
<rect x="163.10" y="25.2" width="4.8" height="71.8" fill="#35856f"/>
<rect x="168.10" y="25.2" width="4.8" height="1.0" fill="#dc5b48"/>
<rect x="174.10" y="26.2" width="4.8" height="31.3" fill="#dc5b48"/>
<rect x="179.10" y="57.9" width="4.8" height="14.3" fill="#dc5b48"/>
<rect x="184.10" y="65.1" width="4.8" height="7.1" fill="#35856f"/>
<rect x="189.10" y="65.1" width="4.8" height="31.1" fill="#dc5b48"/>
<rect x="194.10" y="96.2" width="4.8" height="43.3" fill="#dc5b48"/>
<rect x="199.10" y="113.9" width="4.8" height="25.9" fill="#35856f"/>
<rect x="204.10" y="108.2" width="4.8" height="5.7" fill="#35856f"/>
<rect x="209.10" y="108.2" width="4.8" height="18.7" fill="#dc5b48"/>
<rect x="214.10" y="127.3" width="4.8" height="21.8" fill="#dc5b48"/>
<rect x="219.10" y="149.1" width="4.8" height="16.5" fill="#dc5b48"/>
<rect x="224.10" y="165.6" width="4.8" height="26.3" fill="#dc5b48"/>
<rect x="229.10" y="188.2" width="4.8" height="2.7" fill="#35856f"/>
<rect x="234.10" y="188.2" width="4.8" height="7.1" fill="#dc5b48"/>
<rect x="239.10" y="161.6" width="4.8" height="33.7" fill="#35856f"/>
<rect x="244.10" y="161.6" width="4.8" height="18.6" fill="#dc5b48"/>
<rect x="249.10" y="180.2" width="4.8" height="27.0" fill="#dc5b48"/>
<rect x="254.10" y="207.3" width="4.8" height="41.8" fill="#dc5b48"/>
<rect x="259.10" y="225.9" width="4.8" height="23.2" fill="#35856f"/>
<rect x="264.10" y="225.9" width="4.8" height="17.7" fill="#dc5b48"/>
<rect x="269.10" y="243.0" width="4.8" height="2.0" fill="#dc5b48"/>
<rect x="274.10" y="245.0" width="4.8" height="2.7" fill="#dc5b48"/>
<rect x="280.10" y="247.7" width="4.8" height="33.2" fill="#dc5b48"/>
<rect x="285.10" y="250.7" width="4.8" height="30.2" fill="#35856f"/>
<rect x="290.10" y="250.0" width="4.8" height="1.3" fill="#dc5b48"/>
<rect x="295.10" y="248.3" width="4.8" height="3.0" fill="#35856f"/>
<rect x="300.10" y="246.2" width="4.8" height="2.1" fill="#35856f"/>
<rect x="305.10" y="222.4" width="4.8" height="23.8" fill="#35856f"/>
<rect x="310.10" y="197.6" width="4.8" height="24.8" fill="#35856f"/>
<rect x="315.10" y="197.6" width="4.8" height="21.2" fill="#dc5b48"/>
<rect x="320.10" y="203.3" width="4.8" height="15.5" fill="#35856f"/>
<rect x="325.10" y="202.3" width="4.8" height="6.0" fill="#dc5b48"/>
<rect x="330.10" y="204.9" width="4.8" height="3.8" fill="#35856f"/>
<rect x="335.10" y="204.9" width="4.8" height="8.1" fill="#dc5b48"/>
<rect x="340.10" y="213.0" width="4.8" height="7.8" fill="#dc5b48"/>
<rect x="345.10" y="221.4" width="4.8" height="44.4" fill="#dc5b48"/>
<rect x="350.10" y="260.6" width="4.8" height="5.1" fill="#35856f"/>
<rect x="355.10" y="260.2" width="4.8" height="23.8" fill="#dc5b48"/>
<rect x="360.10" y="284.0" width="4.8" height="8.1" fill="#dc5b48"/>
<rect x="365.10" y="277.4" width="4.8" height="14.7" fill="#35856f"/>
<rect x="370.10" y="277.4" width="4.8" height="14.7" fill="#dc5b48"/>
<rect x="375.10" y="289.9" width="4.8" height="2.2" fill="#35856f"/>
<rect x="381.10" y="290.0" width="4.8" height="1.0" fill="#dc5b48"/>
<rect x="386.10" y="279.8" width="4.8" height="11.1" fill="#35856f"/>
<rect x="391.10" y="273.3" width="4.8" height="6.5" fill="#35856f"/>
<rect x="396.10" y="273.3" width="4.8" height="4.5" fill="#dc5b48"/>
<rect x="401.10" y="277.8" width="4.8" height="6.2" fill="#dc5b48"/>
<rect x="406.10" y="284.0" width="4.8" height="34.3" fill="#dc5b48"/>
<rect x="411.10" y="316.3" width="4.8" height="2.0" fill="#35856f"/>
<rect x="416.10" y="316.3" width="4.8" height="3.4" fill="#dc5b48"/>
<rect x="421.10" y="317.7" width="4.8" height="1.6" fill="#35856f"/>
<rect x="426.10" y="317.7" width="4.8" height="17.1" fill="#dc5b48"/>
<rect x="431.10" y="330.1" width="4.8" height="4.6" fill="#35856f"/>
<rect x="436.10" y="330.1" width="4.8" height="15.5" fill="#dc5b48"/>
<rect x="441.10" y="329.3" width="4.8" height="16.3" fill="#35856f"/>
<rect x="446.10" y="320.0" width="4.8" height="9.3" fill="#35856f"/>
<rect x="451.10" y="320.0" width="4.8" height="2.0" fill="#dc5b48"/>
<rect x="456.10" y="310.1" width="4.8" height="11.9" fill="#35856f"/>
<rect x="461.10" y="310.1" width="4.8" height="6.9" fill="#dc5b48"/>
<rect x="466.10" y="315.1" width="4.8" height="1.9" fill="#35856f"/>
<rect x="471.10" y="315.1" width="4.8" height="5.5" fill="#dc5b48"/>
<rect x="477.10" y="321.0" width="4.8" height="2.6" fill="#dc5b48"/>
<rect x="482.10" y="312.1" width="4.8" height="11.5" fill="#35856f"/>
<rect x="487.10" y="312.1" width="4.8" height="7.1" fill="#dc5b48"/>
<rect x="492.10" y="319.2" width="4.8" height="5.4" fill="#dc5b48"/>
<rect x="497.10" y="325.0" width="4.8" height="12.3" fill="#dc5b48"/>
<rect x="502.10" y="331.7" width="4.8" height="5.6" fill="#35856f"/>
<rect x="507.10" y="331.7" width="4.8" height="5.4" fill="#dc5b48"/>
<rect x="512.10" y="335.7" width="4.8" height="1.4" fill="#35856f"/>
<rect x="517.10" y="332.7" width="4.8" height="3.4" fill="#35856f"/>
<rect x="522.10" y="326.2" width="4.8" height="6.9" fill="#35856f"/>
<rect x="527.10" y="303.4" width="4.8" height="22.8" fill="#35856f"/>
<rect x="532.10" y="289.3" width="4.8" height="14.1" fill="#35856f"/>
<rect x="537.10" y="289.3" width="4.8" height="8.1" fill="#dc5b48"/>
<rect x="542.10" y="297.0" width="4.8" height="0.9" fill="#35856f"/>
<rect x="547.10" y="297.8" width="4.8" height="16.7" fill="#dc5b48"/>
<rect x="552.10" y="308.5" width="4.8" height="6.0" fill="#35856f"/>
<rect x="557.10" y="308.5" width="4.8" height="0.9" fill="#dc5b48"/>
<rect x="562.10" y="309.1" width="4.8" height="0.9" fill="#dc5b48"/>
<rect x="567.10" y="284.9" width="4.8" height="25.0" fill="#35856f"/>
<rect x="572.10" y="284.9" width="4.8" height="11.1" fill="#dc5b48"/>
<rect x="578.10" y="295.6" width="4.8" height="6.4" fill="#dc5b48"/>
<rect x="583.10" y="298.4" width="4.8" height="4.0" fill="#35856f"/>
<rect x="588.10" y="297.4" width="4.8" height="1.4" fill="#35856f"/>
<rect x="593.10" y="295.8" width="4.8" height="1.8" fill="#35856f"/>
<rect x="598.10" y="296.0" width="4.8" height="4.0" fill="#dc5b48"/>
<rect x="603.10" y="300.4" width="4.8" height="9.7" fill="#dc5b48"/>
<rect x="608.10" y="311.9" width="4.8" height="2.0" fill="#dc5b48"/>
<rect x="613.10" y="313.9" width="4.8" height="10.7" fill="#dc5b48"/>
<rect x="618.10" y="324.6" width="4.8" height="1.0" fill="#dc5b48"/>
<rect x="623.10" y="326.0" width="4.8" height="8.3" fill="#dc5b48"/>
<rect x="628.10" y="330.7" width="4.8" height="3.6" fill="#35856f"/>
<rect x="633.10" y="330.7" width="4.8" height="5.3" fill="#dc5b48"/>
<rect x="638.10" y="335.8" width="4.8" height="10.2" fill="#dc5b48"/>
<rect x="643.10" y="346.0" width="4.8" height="19.5" fill="#dc5b48"/>
<rect x="648.10" y="359.9" width="4.8" height="5.6" fill="#35856f"/>
<rect x="653.10" y="359.9" width="4.8" height="11.1" fill="#dc5b48"/>
<rect x="658.10" y="371.0" width="4.8" height="1.6" fill="#dc5b48"/>
<rect x="663.10" y="370.6" width="4.8" height="2.0" fill="#35856f"/>
<rect x="668.10" y="370.6" width="4.8" height="11.7" fill="#dc5b48"/>
<rect x="673.10" y="382.3" width="4.8" height="6.4" fill="#dc5b48"/>
<rect x="679.10" y="387.5" width="4.8" height="0.9" fill="#35856f"/>
<rect x="684.10" y="386.7" width="4.8" height="1.4" fill="#35856f"/>
<rect x="689.10" y="361.5" width="4.8" height="25.2" fill="#35856f"/>
<rect x="694.10" y="361.5" width="4.8" height="14.1" fill="#dc5b48"/>
<rect x="699.10" y="370.6" width="4.8" height="5.0" fill="#35856f"/>
<rect x="704.10" y="370.6" width="4.8" height="16.5" fill="#dc5b48"/>
<rect x="709.10" y="381.3" width="4.8" height="5.8" fill="#35856f"/>
<rect x="714.10" y="381.3" width="4.8" height="4.4" fill="#dc5b48"/>
<rect x="719.10" y="382.1" width="4.8" height="3.6" fill="#35856f"/>
<rect x="724.10" y="381.3" width="4.8" height="1.0" fill="#35856f"/>
<rect x="729.10" y="381.1" width="4.8" height="0.9" fill="#dc5b48"/>
<rect x="734.10" y="380.1" width="4.8" height="3.6" fill="#dc5b48"/>
<rect x="739.10" y="376.6" width="4.8" height="6.7" fill="#35856f"/>
<rect x="744.10" y="372.2" width="4.8" height="4.4" fill="#35856f"/>
<rect x="749.10" y="372.2" width="4.8" height="2.8" fill="#dc5b48"/>
<rect x="754.10" y="375.0" width="4.8" height="4.7" fill="#dc5b48"/>
<rect x="759.10" y="378.7" width="4.8" height="1.2" fill="#35856f"/>
<rect x="764.10" y="357.1" width="4.8" height="21.6" fill="#35856f"/>
<rect x="769.10" y="347.4" width="4.8" height="9.7" fill="#35856f"/>
<rect x="774.10" y="347.4" width="4.8" height="6.6" fill="#dc5b48"/>
<rect x="780.10" y="354.0" width="4.8" height="0.9" fill="#dc5b48"/>
<rect x="785.10" y="354.5" width="4.8" height="28.2" fill="#dc5b48"/>
<rect x="790.10" y="382.7" width="4.8" height="2.0" fill="#dc5b48"/>
<rect x="795.10" y="385.7" width="4.8" height="6.1" fill="#dc5b48"/>
<rect x="800.10" y="391.8" width="4.8" height="6.6" fill="#dc5b48"/>
<rect x="805.10" y="397.2" width="4.8" height="1.2" fill="#35856f"/>
<rect x="810.10" y="397.4" width="4.8" height="3.4" fill="#dc5b48"/>
<rect x="815.10" y="400.8" width="4.8" height="8.1" fill="#dc5b48"/>
<rect x="820.10" y="408.9" width="4.8" height="1.6" fill="#dc5b48"/>
<rect x="825.10" y="402.3" width="4.8" height="8.2" fill="#35856f"/>
<rect x="830.10" y="402.0" width="4.8" height="4.6" fill="#dc5b48"/>
<rect x="835.10" y="405.5" width="4.8" height="1.0" fill="#35856f"/>
<rect x="840.10" y="406.0" width="4.8" height="0.9" fill="#dc5b48"/>
<rect x="845.10" y="405.8" width="4.8" height="9.5" fill="#dc5b48"/>
<rect x="850.10" y="411.2" width="4.8" height="4.0" fill="#35856f"/>
<rect x="855.10" y="410.8" width="4.8" height="1.0" fill="#dc5b48"/>
<rect x="860.10" y="404.3" width="4.8" height="7.5" fill="#35856f"/>
<rect x="865.10" y="390.6" width="4.8" height="13.7" fill="#35856f"/>
<rect x="870.10" y="390.6" width="4.8" height="4.4" fill="#dc5b48"/>
<rect x="875.10" y="394.2" width="4.8" height="1.4" fill="#35856f"/>
<rect x="881.10" y="394.2" width="4.8" height="8.1" fill="#dc5b48"/>
<rect x="886.10" y="402.3" width="4.8" height="4.8" fill="#dc5b48"/>
<rect x="891.10" y="387.5" width="4.8" height="19.3" fill="#35856f"/>
<rect x="896.10" y="372.4" width="4.8" height="12.4" fill="#35856f"/>
<rect x="901.10" y="372.2" width="4.8" height="7.8" fill="#dc5b48"/>
<rect x="906.10" y="380.0" width="4.8" height="0.9" fill="#35856f"/>
<rect x="911.10" y="380.0" width="4.8" height="2.5" fill="#dc5b48"/>
<rect x="916.10" y="381.8" width="4.8" height="0.9" fill="#35856f"/>
<rect x="921.10" y="382.0" width="4.8" height="0.9" fill="#dc5b48"/>
<rect x="926.10" y="382.3" width="4.8" height="3.5" fill="#dc5b48"/>
<rect x="931.10" y="385.2" width="4.8" height="0.9" fill="#35856f"/>
<rect x="936.10" y="385.4" width="4.8" height="0.9" fill="#35856f"/>
<rect x="941.10" y="385.4" width="4.8" height="1.4" fill="#dc5b48"/>
<rect x="946.10" y="385.8" width="4.8" height="1.0" fill="#35856f"/>
<rect x="951.10" y="382.6" width="4.8" height="1.8" fill="#35856f"/>
<rect x="956.10" y="382.6" width="4.8" height="1.8" fill="#dc5b48"/>
<rect x="961.10" y="385.4" width="4.8" height="1.6" fill="#dc5b48"/>
<rect x="966.10" y="389.1" width="4.8" height="21.2" fill="#dc5b48"/>
<rect x="971.10" y="407.7" width="4.8" height="2.6" fill="#35856f"/>
<rect x="976.10" y="405.2" width="4.8" height="1.6" fill="#35856f"/>
<rect x="982.10" y="405.2" width="4.8" height="2.2" fill="#dc5b48"/>
<rect x="987.10" y="400.3" width="4.8" height="7.4" fill="#35856f"/>
<rect x="992.10" y="400.3" width="4.8" height="0.9" fill="#dc5b48"/>
<rect x="997.10" y="401.1" width="4.8" height="1.5" fill="#dc5b48"/>
<rect x="1002.10" y="403.2" width="4.8" height="3.6" fill="#dc5b48"/>
<rect x="1007.10" y="406.8" width="4.8" height="0.9" fill="#35856f"/>
<rect x="1012.10" y="405.0" width="4.8" height="1.5" fill="#35856f"/>
<rect x="1017.10" y="403.8" width="4.8" height="0.9" fill="#35856f"/>
<rect x="1022.10" y="404.0" width="4.8" height="0.9" fill="#dc5b48"/>
<rect x="1027.10" y="404.4" width="4.8" height="2.1" fill="#dc5b48"/>
<rect x="1032.10" y="405.8" width="4.8" height="0.9" fill="#dc5b48"/>
<rect x="1037.10" y="406.4" width="4.8" height="0.9" fill="#dc5b48"/>
<rect x="1042.10" y="406.8" width="4.8" height="0.9" fill="#dc5b48"/>
<rect x="1047.10" y="407.9" width="4.8" height="1.0" fill="#dc5b48"/>
<rect x="1052.10" y="408.2" width="4.8" height="0.9" fill="#dc5b48"/>
<rect x="1057.10" y="408.2" width="4.8" height="6.6" fill="#dc5b48"/>
<rect x="1062.10" y="413.6" width="4.8" height="0.9" fill="#35856f"/>
<rect x="1067.10" y="412.6" width="4.8" height="0.9" fill="#35856f"/>
<rect x="1072.10" y="412.0" width="4.8" height="0.9" fill="#35856f"/>
<rect x="1077.10" y="401.8" width="4.8" height="10.8" fill="#35856f"/>
<rect x="1083.10" y="397.1" width="4.8" height="3.7" fill="#35856f"/>
<rect x="1088.10" y="370.9" width="4.8" height="25.9" fill="#35856f"/>
<rect x="1093.10" y="370.3" width="4.8" height="2.3" fill="#dc5b48"/>
<rect x="1098.10" y="352.9" width="4.8" height="19.9" fill="#35856f"/>
<rect x="1103.10" y="352.9" width="4.8" height="3.5" fill="#dc5b48"/>
<rect x="1108.10" y="356.8" width="4.8" height="11.7" fill="#dc5b48"/>
<rect x="1113.10" y="368.9" width="4.8" height="9.0" fill="#dc5b48"/>
<rect x="1118.10" y="375.0" width="4.8" height="2.9" fill="#35856f"/>
<rect x="1123.10" y="375.0" width="4.8" height="5.9" fill="#dc5b48"/>
<rect x="1128.10" y="381.1" width="4.8" height="4.7" fill="#dc5b48"/>
<rect x="1133.10" y="385.0" width="4.8" height="0.9" fill="#35856f"/>
<rect x="1138.10" y="382.4" width="4.8" height="3.0" fill="#35856f"/>
</g>
</g>
<g clip-path="url(#cm)" fill="none" stroke-linejoin="round" stroke-linecap="round">
<path d="M0.0,177.7C5.8,177.4 23.2,176.7 35.0,176.0C46.8,175.3 61.8,174.5 70.6,173.5C79.4,172.5 82.1,171.3 88.0,170.0C93.9,168.7 100.1,167.5 106.0,165.7C111.9,163.9 117.7,161.3 123.5,159.4C129.3,157.5 135.1,155.8 141.0,154.1C146.9,152.4 153.2,151.4 159.0,149.5C164.8,147.6 170.2,145.0 176.0,142.8C181.8,140.6 188.0,138.4 194.0,136.5C200.0,134.6 206.2,132.8 212.0,131.2C217.8,129.6 223.2,128.2 229.0,126.9C234.8,125.6 241.0,124.3 247.0,123.4C253.0,122.5 259.2,121.9 265.0,121.3C270.8,120.7 276.2,120.0 282.0,119.9C287.8,119.8 293.8,120.4 300.0,120.6C306.2,120.8 312.6,121.1 319.0,121.3C325.4,121.5 333.4,121.4 338.6,121.6C343.8,121.8 343.6,121.3 350.0,122.4C356.4,123.5 369.2,126.6 377.0,128.2C384.8,129.8 390.1,130.6 396.6,131.7C403.1,132.8 409.6,133.8 416.0,134.8C422.4,135.8 428.6,136.6 435.0,137.9C441.4,139.2 448.1,140.6 454.6,142.5C461.1,144.4 468.9,147.2 474.0,149.1C479.1,151.0 481.0,151.5 485.5,154.1C490.0,156.7 495.9,161.3 501.0,164.9C506.1,168.5 511.2,172.5 516.4,175.4C521.5,178.3 526.1,179.7 531.9,182.3C537.7,184.9 544.6,187.8 551.0,190.8C557.4,193.8 564.0,197.3 570.5,200.5C577.0,203.7 583.6,207.0 590.0,210.1C596.4,213.2 604.4,217.0 609.0,219.3C613.6,221.6 613.2,222.2 617.6,224.0C622.0,225.8 629.4,228.0 635.3,230.0C641.2,232.0 647.0,234.1 652.9,236.0C658.8,237.9 664.7,239.8 670.6,241.6C676.5,243.4 682.3,245.3 688.2,246.9C694.1,248.5 700.0,250.0 705.9,251.2C711.8,252.4 718.2,253.2 723.5,254.0C728.8,254.8 732.3,254.9 737.6,255.8C742.9,256.7 748.8,258.0 755.3,259.3C761.8,260.6 769.9,261.9 776.4,263.5C782.9,265.1 788.1,267.2 794.0,268.8C799.9,270.4 805.8,271.9 811.7,273.4C817.6,274.9 823.5,276.2 829.4,277.6C835.3,279.0 841.1,280.5 847.0,281.9C852.9,283.2 858.7,284.6 864.6,285.7C870.5,286.8 875.5,287.6 882.3,288.5C889.1,289.4 897.2,290.3 905.2,291.4C913.2,292.5 922.0,294.0 930.4,295.2C938.8,296.4 947.2,297.4 955.6,298.5C964.0,299.6 972.4,300.7 980.8,301.5C989.2,302.3 997.6,302.8 1006.0,303.3C1014.4,303.8 1022.8,304.1 1031.2,304.5C1039.6,304.9 1048.1,305.4 1056.5,306.0C1064.9,306.6 1075.4,307.7 1081.7,308.3C1088.0,308.9 1090.1,309.1 1094.3,309.6C1098.5,310.2 1102.7,310.8 1106.9,311.6C1111.1,312.4 1115.3,313.6 1119.5,314.6C1123.7,315.7 1128.5,317.0 1132.0,317.9C1135.5,318.8 1139.0,319.4 1140.4,319.7" stroke="#ffb27a" stroke-width="2.9" stroke-opacity="0.7"/>
<path d="M0.0,177.7C5.8,177.4 23.2,176.7 35.0,176.0C46.8,175.3 61.8,174.5 70.6,173.5C79.4,172.5 82.1,171.3 88.0,170.0C93.9,168.7 100.1,167.5 106.0,165.7C111.9,163.9 117.7,161.3 123.5,159.4C129.3,157.5 135.1,155.8 141.0,154.1C146.9,152.4 153.2,151.4 159.0,149.5C164.8,147.6 170.2,145.0 176.0,142.8C181.8,140.6 188.0,138.4 194.0,136.5C200.0,134.6 206.2,132.8 212.0,131.2C217.8,129.6 223.2,128.2 229.0,126.9C234.8,125.6 241.0,124.3 247.0,123.4C253.0,122.5 259.2,121.9 265.0,121.3C270.8,120.7 276.2,120.0 282.0,119.9C287.8,119.8 293.8,120.4 300.0,120.6C306.2,120.8 312.6,121.1 319.0,121.3C325.4,121.5 333.4,121.4 338.6,121.6C343.8,121.8 343.6,121.3 350.0,122.4C356.4,123.5 369.2,126.6 377.0,128.2C384.8,129.8 390.1,130.6 396.6,131.7C403.1,132.8 409.6,133.8 416.0,134.8C422.4,135.8 428.6,136.6 435.0,137.9C441.4,139.2 448.1,140.6 454.6,142.5C461.1,144.4 468.9,147.2 474.0,149.1C479.1,151.0 481.0,151.5 485.5,154.1C490.0,156.7 495.9,161.3 501.0,164.9C506.1,168.5 511.2,172.5 516.4,175.4C521.5,178.3 526.1,179.7 531.9,182.3C537.7,184.9 544.6,187.8 551.0,190.8C557.4,193.8 564.0,197.3 570.5,200.5C577.0,203.7 583.6,207.0 590.0,210.1C596.4,213.2 604.4,217.0 609.0,219.3C613.6,221.6 613.2,222.2 617.6,224.0C622.0,225.8 629.4,228.0 635.3,230.0C641.2,232.0 647.0,234.1 652.9,236.0C658.8,237.9 664.7,239.8 670.6,241.6C676.5,243.4 682.3,245.3 688.2,246.9C694.1,248.5 700.0,250.0 705.9,251.2C711.8,252.4 718.2,253.2 723.5,254.0C728.8,254.8 732.3,254.9 737.6,255.8C742.9,256.7 748.8,258.0 755.3,259.3C761.8,260.6 769.9,261.9 776.4,263.5C782.9,265.1 788.1,267.2 794.0,268.8C799.9,270.4 805.8,271.9 811.7,273.4C817.6,274.9 823.5,276.2 829.4,277.6C835.3,279.0 841.1,280.5 847.0,281.9C852.9,283.2 858.7,284.6 864.6,285.7C870.5,286.8 875.5,287.6 882.3,288.5C889.1,289.4 897.2,290.3 905.2,291.4C913.2,292.5 922.0,294.0 930.4,295.2C938.8,296.4 947.2,297.4 955.6,298.5C964.0,299.6 972.4,300.7 980.8,301.5C989.2,302.3 997.6,302.8 1006.0,303.3C1014.4,303.8 1022.8,304.1 1031.2,304.5C1039.6,304.9 1048.1,305.4 1056.5,306.0C1064.9,306.6 1075.4,307.7 1081.7,308.3C1088.0,308.9 1090.1,309.1 1094.3,309.6C1098.5,310.2 1102.7,310.8 1106.9,311.6C1111.1,312.4 1115.3,313.6 1119.5,314.6C1123.7,315.7 1128.5,317.0 1132.0,317.9C1135.5,318.8 1139.0,319.4 1140.4,319.7" stroke="#c96d2b" stroke-width="1.6"/>
<path d="M0.0,93.4C2.9,96.8 11.7,106.9 17.6,113.5C23.5,120.1 29.4,126.4 35.3,132.9C41.2,139.4 47.0,145.8 52.9,152.3C58.8,158.8 64.7,166.1 70.6,171.7C76.5,177.3 83.5,182.1 88.2,185.9C92.9,189.7 94.7,191.8 98.8,194.7C102.9,197.6 107.6,201.2 112.9,203.5C118.2,205.8 124.7,207.5 130.6,208.8C136.5,210.2 142.3,210.9 148.2,211.6C154.1,212.2 159.9,212.6 165.8,212.7C171.7,212.8 177.6,212.5 183.5,212.3C189.4,212.1 195.2,212.0 201.1,211.6C207.0,211.2 212.9,210.6 218.8,209.9C224.7,209.2 231.7,208.2 236.4,207.7C241.1,207.2 243.5,206.8 247.0,207.0C250.5,207.2 252.9,207.7 257.6,208.8C262.3,209.9 269.3,211.9 275.2,213.4C281.1,214.9 287.9,216.6 292.9,217.6C297.9,218.6 300.6,219.1 305.0,219.5C309.4,219.9 313.4,219.8 319.0,220.2C324.6,220.6 333.4,221.1 338.6,221.7C343.8,222.3 343.6,222.6 350.0,223.7C356.4,224.8 369.2,227.2 377.0,228.3C384.8,229.5 390.1,229.8 396.6,230.6C403.1,231.4 409.6,232.4 416.0,233.3C422.4,234.2 428.6,235.0 435.0,236.0C441.4,237.0 448.1,238.3 454.6,239.1C461.1,239.9 467.6,240.5 474.0,240.7C480.4,240.9 486.6,240.6 493.0,240.3C499.4,240.0 506.1,239.4 512.6,239.1C519.1,238.8 525.5,238.7 531.9,238.4C538.3,238.1 544.6,237.5 551.0,237.2C557.4,236.9 564.7,236.5 570.5,236.4C576.3,236.3 580.9,236.1 586.0,236.4C591.1,236.7 596.1,237.0 601.4,238.3C606.7,239.6 612.0,241.8 617.6,244.1C623.2,246.4 629.4,249.4 635.3,252.2C641.2,255.0 647.0,257.6 652.9,260.7C658.8,263.8 664.7,267.1 670.6,270.6C676.5,274.1 682.3,278.5 688.2,281.9C694.1,285.3 700.0,288.2 705.9,291.0C711.8,293.8 718.2,296.6 723.5,298.8C728.8,301.0 732.3,302.2 737.6,304.1C742.9,306.0 748.8,308.5 755.3,310.4C761.8,312.3 769.9,313.9 776.4,315.7C782.9,317.5 788.1,319.1 794.0,321.0C799.9,322.9 805.8,324.8 811.7,327.0C817.6,329.2 823.5,331.9 829.4,334.1C835.3,336.3 841.1,338.5 847.0,340.4C852.9,342.3 858.7,344.0 864.6,345.4C870.5,346.8 875.5,347.4 882.3,348.6C889.1,349.8 897.2,351.4 905.2,352.7C913.2,354.0 922.0,355.1 930.4,356.2C938.8,357.2 947.2,357.8 955.6,359.0C964.0,360.2 972.4,361.9 980.8,363.3C989.2,364.7 997.6,365.9 1006.0,367.1C1014.4,368.4 1022.8,369.2 1031.2,370.8C1039.6,372.4 1048.1,374.6 1056.5,376.4C1064.9,378.2 1073.3,380.2 1081.7,381.7C1090.1,383.2 1098.5,384.1 1106.9,385.2C1115.3,386.2 1126.4,387.4 1132.0,388.0C1137.6,388.6 1139.0,388.6 1140.4,388.7" stroke="#efe06a" stroke-width="2.9" stroke-opacity="0.7"/>
<path d="M0.0,93.4C2.9,96.8 11.7,106.9 17.6,113.5C23.5,120.1 29.4,126.4 35.3,132.9C41.2,139.4 47.0,145.8 52.9,152.3C58.8,158.8 64.7,166.1 70.6,171.7C76.5,177.3 83.5,182.1 88.2,185.9C92.9,189.7 94.7,191.8 98.8,194.7C102.9,197.6 107.6,201.2 112.9,203.5C118.2,205.8 124.7,207.5 130.6,208.8C136.5,210.2 142.3,210.9 148.2,211.6C154.1,212.2 159.9,212.6 165.8,212.7C171.7,212.8 177.6,212.5 183.5,212.3C189.4,212.1 195.2,212.0 201.1,211.6C207.0,211.2 212.9,210.6 218.8,209.9C224.7,209.2 231.7,208.2 236.4,207.7C241.1,207.2 243.5,206.8 247.0,207.0C250.5,207.2 252.9,207.7 257.6,208.8C262.3,209.9 269.3,211.9 275.2,213.4C281.1,214.9 287.9,216.6 292.9,217.6C297.9,218.6 300.6,219.1 305.0,219.5C309.4,219.9 313.4,219.8 319.0,220.2C324.6,220.6 333.4,221.1 338.6,221.7C343.8,222.3 343.6,222.6 350.0,223.7C356.4,224.8 369.2,227.2 377.0,228.3C384.8,229.5 390.1,229.8 396.6,230.6C403.1,231.4 409.6,232.4 416.0,233.3C422.4,234.2 428.6,235.0 435.0,236.0C441.4,237.0 448.1,238.3 454.6,239.1C461.1,239.9 467.6,240.5 474.0,240.7C480.4,240.9 486.6,240.6 493.0,240.3C499.4,240.0 506.1,239.4 512.6,239.1C519.1,238.8 525.5,238.7 531.9,238.4C538.3,238.1 544.6,237.5 551.0,237.2C557.4,236.9 564.7,236.5 570.5,236.4C576.3,236.3 580.9,236.1 586.0,236.4C591.1,236.7 596.1,237.0 601.4,238.3C606.7,239.6 612.0,241.8 617.6,244.1C623.2,246.4 629.4,249.4 635.3,252.2C641.2,255.0 647.0,257.6 652.9,260.7C658.8,263.8 664.7,267.1 670.6,270.6C676.5,274.1 682.3,278.5 688.2,281.9C694.1,285.3 700.0,288.2 705.9,291.0C711.8,293.8 718.2,296.6 723.5,298.8C728.8,301.0 732.3,302.2 737.6,304.1C742.9,306.0 748.8,308.5 755.3,310.4C761.8,312.3 769.9,313.9 776.4,315.7C782.9,317.5 788.1,319.1 794.0,321.0C799.9,322.9 805.8,324.8 811.7,327.0C817.6,329.2 823.5,331.9 829.4,334.1C835.3,336.3 841.1,338.5 847.0,340.4C852.9,342.3 858.7,344.0 864.6,345.4C870.5,346.8 875.5,347.4 882.3,348.6C889.1,349.8 897.2,351.4 905.2,352.7C913.2,354.0 922.0,355.1 930.4,356.2C938.8,357.2 947.2,357.8 955.6,359.0C964.0,360.2 972.4,361.9 980.8,363.3C989.2,364.7 997.6,365.9 1006.0,367.1C1014.4,368.4 1022.8,369.2 1031.2,370.8C1039.6,372.4 1048.1,374.6 1056.5,376.4C1064.9,378.2 1073.3,380.2 1081.7,381.7C1090.1,383.2 1098.5,384.1 1106.9,385.2C1115.3,386.2 1126.4,387.4 1132.0,388.0C1137.6,388.6 1139.0,388.6 1140.4,388.7" stroke="#9c8c2c" stroke-width="1.6"/>
<path d="M0.0,215.9C2.9,218.5 11.7,226.4 17.6,231.7C23.5,237.0 29.4,242.8 35.3,247.6C41.2,252.3 48.8,257.4 52.9,260.2C57.0,263.0 56.7,262.5 60.0,264.3C63.3,266.1 68.5,269.1 72.7,271.0C77.0,272.9 81.0,274.3 85.5,275.4C90.0,276.4 94.6,277.4 99.5,277.3C104.4,277.2 110.3,276.1 114.8,275.0C119.2,273.9 122.6,272.4 126.2,271.0C129.8,269.6 133.2,268.0 136.4,266.9C139.6,265.8 142.4,265.5 145.4,264.3C148.4,263.1 151.6,261.1 154.3,259.5C157.1,257.9 159.2,256.7 161.9,254.4C164.7,252.1 167.6,248.4 170.8,245.5C174.0,242.6 177.6,239.5 181.0,237.2C184.4,234.9 188.0,233.1 191.2,231.5C194.4,229.9 196.9,229.0 200.1,227.6C203.3,226.2 207.0,224.2 210.3,222.8C213.6,221.4 215.7,221.3 220.0,219.0C224.3,216.7 230.7,212.1 236.4,208.8C242.1,205.5 248.1,202.2 254.0,199.3C259.9,196.4 265.7,193.5 271.7,191.2C277.7,188.9 284.9,187.1 290.0,185.3C295.1,183.5 298.1,182.2 302.1,180.3C306.1,178.5 310.2,176.0 314.2,174.2C318.2,172.3 322.3,170.4 326.3,169.2C330.3,168.0 334.7,167.3 338.4,167.2C342.1,167.1 345.1,167.5 348.5,168.6C351.9,169.7 354.9,171.9 358.6,173.8C362.3,175.8 367.0,178.2 370.7,180.3C374.4,182.4 377.4,184.3 380.8,186.3C384.2,188.3 387.5,190.5 390.9,192.4C394.3,194.3 397.6,195.7 401.0,198.0C404.4,200.3 407.7,203.2 411.1,206.5C414.5,209.8 417.8,213.9 421.2,217.6C424.6,221.3 427.9,225.2 431.3,228.7C434.7,232.2 438.0,235.6 441.3,238.8C444.6,242.0 448.0,245.1 451.4,247.9C454.8,250.8 458.4,253.6 461.5,255.9C464.6,258.2 464.8,258.3 470.0,261.6C475.2,264.9 485.9,272.1 493.0,275.8C500.1,279.5 506.1,281.5 512.6,283.6C519.1,285.7 525.5,287.0 531.9,288.6C538.3,290.2 544.6,291.5 551.0,293.2C557.4,294.9 564.0,296.9 570.5,299.0C577.0,301.1 584.6,304.0 590.0,305.5C595.4,307.0 598.4,307.1 603.0,308.0C607.6,308.9 612.2,310.2 617.6,311.1C623.0,312.0 629.4,312.2 635.3,313.6C641.2,315.0 647.0,317.7 652.9,319.3C658.8,320.9 664.7,322.2 670.6,323.5C676.5,324.8 682.3,325.6 688.2,327.0C694.1,328.4 700.0,330.0 705.9,331.6C711.8,333.2 718.2,335.3 723.5,336.6C728.8,337.9 732.3,338.5 737.6,339.4C742.9,340.3 750.0,341.3 755.3,342.2C760.6,343.1 765.3,344.2 769.4,344.7C773.5,345.2 775.9,344.5 780.0,345.4C784.1,346.3 788.7,348.2 794.0,350.0C799.3,351.8 805.8,353.9 811.7,356.3C817.6,358.7 823.5,361.6 829.4,364.1C835.3,366.6 841.1,368.9 847.0,371.1C852.9,373.3 859.1,375.6 864.6,377.5C870.1,379.4 875.3,381.3 880.0,382.6C884.7,383.9 888.4,384.7 892.6,385.3C896.8,385.9 898.9,385.8 905.2,386.0C911.5,386.2 922.0,386.5 930.4,386.7C938.8,386.9 949.3,387.0 955.6,387.2C961.9,387.4 964.0,387.6 968.2,388.0C972.4,388.4 976.6,389.1 980.8,389.7C985.0,390.3 989.2,390.9 993.4,391.5C997.6,392.1 1001.8,392.4 1006.0,393.0C1010.2,393.6 1014.4,394.2 1018.6,394.8C1022.8,395.4 1027.0,395.9 1031.2,396.5C1035.4,397.1 1039.7,397.7 1043.9,398.1C1048.1,398.5 1052.3,398.9 1056.5,399.1C1060.7,399.3 1064.8,399.3 1069.0,399.3C1073.2,399.3 1077.5,399.4 1081.7,399.1C1085.9,398.8 1090.1,397.9 1094.3,397.3C1098.5,396.7 1102.7,395.9 1106.9,395.3C1111.1,394.7 1115.3,394.2 1119.5,393.8C1123.7,393.4 1128.5,393.2 1132.0,393.0C1135.5,392.8 1139.0,392.4 1140.4,392.3" stroke="#6cf36c" stroke-width="2.9" stroke-opacity="0.7"/>
<path d="M0.0,215.9C2.9,218.5 11.7,226.4 17.6,231.7C23.5,237.0 29.4,242.8 35.3,247.6C41.2,252.3 48.8,257.4 52.9,260.2C57.0,263.0 56.7,262.5 60.0,264.3C63.3,266.1 68.5,269.1 72.7,271.0C77.0,272.9 81.0,274.3 85.5,275.4C90.0,276.4 94.6,277.4 99.5,277.3C104.4,277.2 110.3,276.1 114.8,275.0C119.2,273.9 122.6,272.4 126.2,271.0C129.8,269.6 133.2,268.0 136.4,266.9C139.6,265.8 142.4,265.5 145.4,264.3C148.4,263.1 151.6,261.1 154.3,259.5C157.1,257.9 159.2,256.7 161.9,254.4C164.7,252.1 167.6,248.4 170.8,245.5C174.0,242.6 177.6,239.5 181.0,237.2C184.4,234.9 188.0,233.1 191.2,231.5C194.4,229.9 196.9,229.0 200.1,227.6C203.3,226.2 207.0,224.2 210.3,222.8C213.6,221.4 215.7,221.3 220.0,219.0C224.3,216.7 230.7,212.1 236.4,208.8C242.1,205.5 248.1,202.2 254.0,199.3C259.9,196.4 265.7,193.5 271.7,191.2C277.7,188.9 284.9,187.1 290.0,185.3C295.1,183.5 298.1,182.2 302.1,180.3C306.1,178.5 310.2,176.0 314.2,174.2C318.2,172.3 322.3,170.4 326.3,169.2C330.3,168.0 334.7,167.3 338.4,167.2C342.1,167.1 345.1,167.5 348.5,168.6C351.9,169.7 354.9,171.9 358.6,173.8C362.3,175.8 367.0,178.2 370.7,180.3C374.4,182.4 377.4,184.3 380.8,186.3C384.2,188.3 387.5,190.5 390.9,192.4C394.3,194.3 397.6,195.7 401.0,198.0C404.4,200.3 407.7,203.2 411.1,206.5C414.5,209.8 417.8,213.9 421.2,217.6C424.6,221.3 427.9,225.2 431.3,228.7C434.7,232.2 438.0,235.6 441.3,238.8C444.6,242.0 448.0,245.1 451.4,247.9C454.8,250.8 458.4,253.6 461.5,255.9C464.6,258.2 464.8,258.3 470.0,261.6C475.2,264.9 485.9,272.1 493.0,275.8C500.1,279.5 506.1,281.5 512.6,283.6C519.1,285.7 525.5,287.0 531.9,288.6C538.3,290.2 544.6,291.5 551.0,293.2C557.4,294.9 564.0,296.9 570.5,299.0C577.0,301.1 584.6,304.0 590.0,305.5C595.4,307.0 598.4,307.1 603.0,308.0C607.6,308.9 612.2,310.2 617.6,311.1C623.0,312.0 629.4,312.2 635.3,313.6C641.2,315.0 647.0,317.7 652.9,319.3C658.8,320.9 664.7,322.2 670.6,323.5C676.5,324.8 682.3,325.6 688.2,327.0C694.1,328.4 700.0,330.0 705.9,331.6C711.8,333.2 718.2,335.3 723.5,336.6C728.8,337.9 732.3,338.5 737.6,339.4C742.9,340.3 750.0,341.3 755.3,342.2C760.6,343.1 765.3,344.2 769.4,344.7C773.5,345.2 775.9,344.5 780.0,345.4C784.1,346.3 788.7,348.2 794.0,350.0C799.3,351.8 805.8,353.9 811.7,356.3C817.6,358.7 823.5,361.6 829.4,364.1C835.3,366.6 841.1,368.9 847.0,371.1C852.9,373.3 859.1,375.6 864.6,377.5C870.1,379.4 875.3,381.3 880.0,382.6C884.7,383.9 888.4,384.7 892.6,385.3C896.8,385.9 898.9,385.8 905.2,386.0C911.5,386.2 922.0,386.5 930.4,386.7C938.8,386.9 949.3,387.0 955.6,387.2C961.9,387.4 964.0,387.6 968.2,388.0C972.4,388.4 976.6,389.1 980.8,389.7C985.0,390.3 989.2,390.9 993.4,391.5C997.6,392.1 1001.8,392.4 1006.0,393.0C1010.2,393.6 1014.4,394.2 1018.6,394.8C1022.8,395.4 1027.0,395.9 1031.2,396.5C1035.4,397.1 1039.7,397.7 1043.9,398.1C1048.1,398.5 1052.3,398.9 1056.5,399.1C1060.7,399.3 1064.8,399.3 1069.0,399.3C1073.2,399.3 1077.5,399.4 1081.7,399.1C1085.9,398.8 1090.1,397.9 1094.3,397.3C1098.5,396.7 1102.7,395.9 1106.9,395.3C1111.1,394.7 1115.3,394.2 1119.5,393.8C1123.7,393.4 1128.5,393.2 1132.0,393.0C1135.5,392.8 1139.0,392.4 1140.4,392.3" stroke="#27a827" stroke-width="1.6"/>
</g>
<line x1="0" y1="382.3" x2="1168" y2="382.3" stroke="#2b3a5c" stroke-width="1.05"/>
<g fill="none" stroke-linejoin="round">
<polyline clip-path="url(#cr)" points="0.0,469.3 4.6,467.2 10.2,468.5 19.1,469.8 29.3,466.7 38.2,466.7 43.3,465.2 49.7,460.4 59.9,460.1 65.0,457.3 74.6,458.8 80.3,451.9 85.4,448.6 89.2,445.1 99.4,443.0 105.2,439.2 110.8,441.2 115.9,446.3 121.0,444.8 126.1,448.1 135.0,446.3 140.9,449.9 145.2,449.4 152.9,446.8 160.5,446.1 165.6,442.5 170.7,442.5 178.3,448.1 184.7,448.6 196.2,457.0 201.3,454.5 206.4,454.5 216.6,458.3 226.8,462.1 234.4,461.6 236.9,462.6 242.0,458.3 247.1,460.4 257.3,465.4 261.9,462.6 267.5,463.9 276.4,464.7 282.3,466.7 287.9,462.9 295.5,462.6 301.9,462.1 312.1,456.3 317.2,458.3 320.0,458.3 326.4,457.0 332.7,457.0 342.9,459.6 348.0,463.4 353.1,462.9 358.2,465.2 363.3,466.0 368.4,463.4 373.5,464.7 383.7,464.2 392.6,461.4 402.8,462.6 409.2,466.7 416.8,466.5 423.2,466.7 428.3,468.0 432.1,467.2 438.5,468.0 444.8,464.2 448.7,462.9 453.8,462.9 458.9,460.9 467.8,461.6 479.2,462.6 484.3,460.1 492.0,462.1 498.3,464.2 503.4,462.9 509.8,463.4 520.0,462.6 523.8,460.9 530.2,454.5 534.0,452.5 539.1,454.0 544.2,454.5 550.6,458.3 555.7,457.0 564.6,457.0 569.7,452.5 574.8,454.5 579.9,456.3 585.0,455.3 595.2,454.7 600.3,456.3 605.4,458.8 610.4,460.1 615.5,462.1 620.6,462.9 625.7,464.2 630.8,462.9 635.9,464.2 640.0,466.0 645.1,469.0 650.2,467.7 655.3,469.3 665.5,468.5 675.7,471.1 685.9,469.8 691.0,461.4 696.1,463.4 701.1,462.6 706.8,465.4 713.9,463.4 717.7,464.2 724.1,462.9 730.4,462.6 736.3,463.4 741.4,460.9 746.5,459.6 752.1,460.4 755.9,461.6 761.8,461.4 766.9,454.5 772.0,452.5 777.1,454.0 782.2,454.5 787.3,461.6 792.9,462.1 798.0,463.4 803.1,464.7 808.2,464.7 813.2,466.0 818.3,467.2 822.2,467.2 827.3,463.9 832.4,464.7 842.5,464.7 847.6,466.7 852.7,464.9 857.8,464.7 862.9,460.9 868.0,457.0 873.1,458.3 878.2,458.3 883.3,460.9 888.4,461.6 893.5,455.3 897.8,451.9 903.7,454.0 908.8,454.0 913.9,455.0 922.8,455.0 929.2,457.0 934.3,457.0 936.0,455.8 942.4,457.0 947.5,455.3 953.8,454.5 958.9,456.3 964.0,458.3 969.1,465.2 974.2,463.4 979.3,462.6 984.4,463.4 989.5,460.4 995.9,460.4 1003.5,462.4 1009.9,462.1 1015.0,460.9 1025.2,460.9 1031.5,461.9 1037.9,462.1 1043.0,462.6 1049.4,463.4 1054.5,462.6 1060.1,466.2 1065.9,464.7 1071.0,464.2 1075.4,463.9 1079.9,455.8 1085.0,452.7 1089.6,445.1 1095.2,444.8 1100.3,441.8 1105.4,443.5 1110.5,448.6 1115.6,453.2 1120.7,452.5 1125.8,454.5 1130.9,456.0 1136.0,456.3 1140.6,455.3" stroke="#8fa0e8" stroke-width="2" stroke-opacity="0.35"/>
<polyline clip-path="url(#cr)" points="0.0,469.3 4.6,467.2 10.2,468.5 19.1,469.8 29.3,466.7 38.2,466.7 43.3,465.2 49.7,460.4 59.9,460.1 65.0,457.3 74.6,458.8 80.3,451.9 85.4,448.6 89.2,445.1 99.4,443.0 105.2,439.2 110.8,441.2 115.9,446.3 121.0,444.8 126.1,448.1 135.0,446.3 140.9,449.9 145.2,449.4 152.9,446.8 160.5,446.1 165.6,442.5 170.7,442.5 178.3,448.1 184.7,448.6 196.2,457.0 201.3,454.5 206.4,454.5 216.6,458.3 226.8,462.1 234.4,461.6 236.9,462.6 242.0,458.3 247.1,460.4 257.3,465.4 261.9,462.6 267.5,463.9 276.4,464.7 282.3,466.7 287.9,462.9 295.5,462.6 301.9,462.1 312.1,456.3 317.2,458.3 320.0,458.3 326.4,457.0 332.7,457.0 342.9,459.6 348.0,463.4 353.1,462.9 358.2,465.2 363.3,466.0 368.4,463.4 373.5,464.7 383.7,464.2 392.6,461.4 402.8,462.6 409.2,466.7 416.8,466.5 423.2,466.7 428.3,468.0 432.1,467.2 438.5,468.0 444.8,464.2 448.7,462.9 453.8,462.9 458.9,460.9 467.8,461.6 479.2,462.6 484.3,460.1 492.0,462.1 498.3,464.2 503.4,462.9 509.8,463.4 520.0,462.6 523.8,460.9 530.2,454.5 534.0,452.5 539.1,454.0 544.2,454.5 550.6,458.3 555.7,457.0 564.6,457.0 569.7,452.5 574.8,454.5 579.9,456.3 585.0,455.3 595.2,454.7 600.3,456.3 605.4,458.8 610.4,460.1 615.5,462.1 620.6,462.9 625.7,464.2 630.8,462.9 635.9,464.2 640.0,466.0 645.1,469.0 650.2,467.7 655.3,469.3 665.5,468.5 675.7,471.1 685.9,469.8 691.0,461.4 696.1,463.4 701.1,462.6 706.8,465.4 713.9,463.4 717.7,464.2 724.1,462.9 730.4,462.6 736.3,463.4 741.4,460.9 746.5,459.6 752.1,460.4 755.9,461.6 761.8,461.4 766.9,454.5 772.0,452.5 777.1,454.0 782.2,454.5 787.3,461.6 792.9,462.1 798.0,463.4 803.1,464.7 808.2,464.7 813.2,466.0 818.3,467.2 822.2,467.2 827.3,463.9 832.4,464.7 842.5,464.7 847.6,466.7 852.7,464.9 857.8,464.7 862.9,460.9 868.0,457.0 873.1,458.3 878.2,458.3 883.3,460.9 888.4,461.6 893.5,455.3 897.8,451.9 903.7,454.0 908.8,454.0 913.9,455.0 922.8,455.0 929.2,457.0 934.3,457.0 936.0,455.8 942.4,457.0 947.5,455.3 953.8,454.5 958.9,456.3 964.0,458.3 969.1,465.2 974.2,463.4 979.3,462.6 984.4,463.4 989.5,460.4 995.9,460.4 1003.5,462.4 1009.9,462.1 1015.0,460.9 1025.2,460.9 1031.5,461.9 1037.9,462.1 1043.0,462.6 1049.4,463.4 1054.5,462.6 1060.1,466.2 1065.9,464.7 1071.0,464.2 1075.4,463.9 1079.9,455.8 1085.0,452.7 1089.6,445.1 1095.2,444.8 1100.3,441.8 1105.4,443.5 1110.5,448.6 1115.6,453.2 1120.7,452.5 1125.8,454.5 1130.9,456.0 1136.0,456.3 1140.6,455.3" stroke="#2c376f" stroke-width="1"/>
<polyline clip-path="url(#co)" points="0.0,539.8 4.6,535.5 14.0,538.6 19.1,539.1 24.7,537.3 29.3,538.6 34.9,541.6 43.3,539.1 54.8,535.3 59.9,535.3 65.0,532.2 74.6,530.9 80.3,522.8 85.4,519.5 90.4,513.9 95.5,511.8 100.1,511.3 105.7,504.7 110.8,504.2 115.4,507.2 120.5,502.4 125.6,506.2 135.0,502.9 140.9,506.2 145.2,506.2 155.4,504.2 160.5,503.4 165.6,497.0 170.7,497.0 175.8,499.8 181.4,505.4 186.0,507.2 196.2,521.5 201.3,519.5 206.4,527.1 211.5,527.9 216.6,527.1 221.7,532.2 226.8,532.7 236.4,536.0 241.5,529.6 246.6,532.2 256.8,544.9 261.9,542.4 266.8,551.8 271.3,551.8 276.9,548.8 282.3,550.8 291.7,545.4 296.8,539.8 301.9,542.4 307.0,539.8 312.1,535.5 318.5,534.2 320.0,533.5 327.6,529.6 337.8,530.2 342.9,534.7 348.0,537.3 353.1,533.5 358.2,531.7 362.8,535.3 367.9,531.7 373.5,533.2 378.6,532.7 383.7,529.1 388.8,531.4 393.9,530.4 402.8,532.2 407.9,538.1 413.0,540.6 418.1,539.1 423.2,540.4 428.3,541.6 433.4,541.6 438.5,542.4 443.6,539.8 448.7,534.2 453.8,534.2 458.9,530.9 463.9,530.9 469.0,532.2 474.1,531.4 479.2,531.7 484.3,530.2 489.4,531.7 494.5,533.5 499.6,534.5 504.7,532.7 509.8,530.4 514.9,530.2 523.8,529.1 530.2,524.6 535.3,523.3 539.1,522.8 544.2,524.6 549.3,527.1 554.4,526.3 559.5,527.9 564.6,527.1 569.7,524.6 574.8,525.1 585.0,526.3 590.1,525.8 595.2,524.8 600.3,524.0 605.4,525.8 610.4,525.3 615.5,526.6 620.6,527.1 625.7,529.1 630.8,531.4 635.9,533.0 640.0,533.5 645.1,535.3 650.2,533.0 655.3,534.7 665.5,534.7 671.1,538.6 675.7,538.6 680.8,537.3 685.9,537.3 691.0,535.0 696.1,536.8 701.1,536.0 706.8,536.5 713.9,534.7 719.0,534.2 725.4,533.2 730.4,533.5 736.3,533.5 741.4,531.4 746.5,528.9 752.1,529.6 757.2,528.9 762.3,528.4 767.4,525.8 772.0,524.6 782.2,524.6 787.3,527.9 792.4,530.4 797.5,530.2 802.5,531.4 807.6,529.1 813.2,530.4 822.2,531.4 828.5,530.4 833.6,530.9 838.7,530.4 843.8,531.7 848.4,533.0 854.0,531.7 862.9,530.9 868.0,532.2 873.1,533.5 878.2,532.7 883.3,533.5 888.4,530.9 893.5,528.4 897.8,525.8 903.7,526.1 913.9,526.1 919.0,525.1 922.8,525.1 929.2,526.6 934.3,525.8 936.0,526.3 942.4,526.1 947.5,524.8 953.8,524.6 958.9,525.3 964.0,526.3 969.1,530.2 974.2,529.1 979.3,528.9 984.4,528.4 989.5,527.4 994.6,529.6 999.7,531.2 1009.9,530.9 1020.1,530.4 1030.3,530.2 1040.5,530.4 1048.1,530.4 1055.7,530.9 1060.8,531.2 1065.9,530.4 1071.0,528.4 1075.4,528.4 1079.9,527.6 1085.0,526.6 1089.6,524.8 1095.2,524.6 1100.3,522.5 1105.4,522.8 1110.5,524.0 1115.6,525.1 1120.7,524.8 1125.8,525.6 1130.9,525.8 1136.0,525.8 1140.6,525.3" stroke="#8fa0e8" stroke-width="2" stroke-opacity="0.35"/>
<polyline clip-path="url(#co)" points="0.0,539.8 4.6,535.5 14.0,538.6 19.1,539.1 24.7,537.3 29.3,538.6 34.9,541.6 43.3,539.1 54.8,535.3 59.9,535.3 65.0,532.2 74.6,530.9 80.3,522.8 85.4,519.5 90.4,513.9 95.5,511.8 100.1,511.3 105.7,504.7 110.8,504.2 115.4,507.2 120.5,502.4 125.6,506.2 135.0,502.9 140.9,506.2 145.2,506.2 155.4,504.2 160.5,503.4 165.6,497.0 170.7,497.0 175.8,499.8 181.4,505.4 186.0,507.2 196.2,521.5 201.3,519.5 206.4,527.1 211.5,527.9 216.6,527.1 221.7,532.2 226.8,532.7 236.4,536.0 241.5,529.6 246.6,532.2 256.8,544.9 261.9,542.4 266.8,551.8 271.3,551.8 276.9,548.8 282.3,550.8 291.7,545.4 296.8,539.8 301.9,542.4 307.0,539.8 312.1,535.5 318.5,534.2 320.0,533.5 327.6,529.6 337.8,530.2 342.9,534.7 348.0,537.3 353.1,533.5 358.2,531.7 362.8,535.3 367.9,531.7 373.5,533.2 378.6,532.7 383.7,529.1 388.8,531.4 393.9,530.4 402.8,532.2 407.9,538.1 413.0,540.6 418.1,539.1 423.2,540.4 428.3,541.6 433.4,541.6 438.5,542.4 443.6,539.8 448.7,534.2 453.8,534.2 458.9,530.9 463.9,530.9 469.0,532.2 474.1,531.4 479.2,531.7 484.3,530.2 489.4,531.7 494.5,533.5 499.6,534.5 504.7,532.7 509.8,530.4 514.9,530.2 523.8,529.1 530.2,524.6 535.3,523.3 539.1,522.8 544.2,524.6 549.3,527.1 554.4,526.3 559.5,527.9 564.6,527.1 569.7,524.6 574.8,525.1 585.0,526.3 590.1,525.8 595.2,524.8 600.3,524.0 605.4,525.8 610.4,525.3 615.5,526.6 620.6,527.1 625.7,529.1 630.8,531.4 635.9,533.0 640.0,533.5 645.1,535.3 650.2,533.0 655.3,534.7 665.5,534.7 671.1,538.6 675.7,538.6 680.8,537.3 685.9,537.3 691.0,535.0 696.1,536.8 701.1,536.0 706.8,536.5 713.9,534.7 719.0,534.2 725.4,533.2 730.4,533.5 736.3,533.5 741.4,531.4 746.5,528.9 752.1,529.6 757.2,528.9 762.3,528.4 767.4,525.8 772.0,524.6 782.2,524.6 787.3,527.9 792.4,530.4 797.5,530.2 802.5,531.4 807.6,529.1 813.2,530.4 822.2,531.4 828.5,530.4 833.6,530.9 838.7,530.4 843.8,531.7 848.4,533.0 854.0,531.7 862.9,530.9 868.0,532.2 873.1,533.5 878.2,532.7 883.3,533.5 888.4,530.9 893.5,528.4 897.8,525.8 903.7,526.1 913.9,526.1 919.0,525.1 922.8,525.1 929.2,526.6 934.3,525.8 936.0,526.3 942.4,526.1 947.5,524.8 953.8,524.6 958.9,525.3 964.0,526.3 969.1,530.2 974.2,529.1 979.3,528.9 984.4,528.4 989.5,527.4 994.6,529.6 999.7,531.2 1009.9,530.9 1020.1,530.4 1030.3,530.2 1040.5,530.4 1048.1,530.4 1055.7,530.9 1060.8,531.2 1065.9,530.4 1071.0,528.4 1075.4,528.4 1079.9,527.6 1085.0,526.6 1089.6,524.8 1095.2,524.6 1100.3,522.5 1105.4,522.8 1110.5,524.0 1115.6,525.1 1120.7,524.8 1125.8,525.6 1130.9,525.8 1136.0,525.8 1140.6,525.3" stroke="#2c376f" stroke-width="1"/>
</g>
<g stroke="#555" stroke-width="1">
<line x1="511" y1="422.1" x2="531" y2="422.1"/>
<line x1="511" y1="424.4" x2="531" y2="424.4"/>
<line x1="511" y1="426.7" x2="531" y2="426.7"/>
<line x1="511" y1="489.4" x2="531" y2="489.4"/>
<line x1="511" y1="491.5" x2="531" y2="491.5"/>
<line x1="511" y1="493.6" x2="531" y2="493.6"/>
</g>
<g stroke="#c9ccd6" stroke-width="1">
<line x1="1170.5" y1="15.10" x2="1175.5" y2="15.10"/>
<line x1="1170.5" y1="44.03" x2="1175.5" y2="44.03"/>
<line x1="1170.5" y1="72.96" x2="1175.5" y2="72.96"/>
<line x1="1170.5" y1="101.89" x2="1175.5" y2="101.89"/>
<line x1="1170.5" y1="130.82" x2="1175.5" y2="130.82"/>
<line x1="1170.5" y1="159.75" x2="1175.5" y2="159.75"/>
<line x1="1170.5" y1="188.68" x2="1175.5" y2="188.68"/>
<line x1="1170.5" y1="217.61" x2="1175.5" y2="217.61"/>
<line x1="1170.5" y1="246.54" x2="1175.5" y2="246.54"/>
<line x1="1170.5" y1="275.47" x2="1175.5" y2="275.47"/>
<line x1="1170.5" y1="304.40" x2="1175.5" y2="304.40"/>
<line x1="1170.5" y1="333.33" x2="1175.5" y2="333.33"/>
<line x1="1170.5" y1="362.26" x2="1175.5" y2="362.26"/>
<line x1="1170.5" y1="391.19" x2="1175.5" y2="391.19"/>
<line x1="1170.5" y1="457.30" x2="1175.5" y2="457.30"/>
<line x1="1170.5" y1="484.60" x2="1175.5" y2="484.60"/>
<line x1="1170.5" y1="528.40" x2="1175.5" y2="528.40"/>
</g>
<g fill="#5c5c5c" font-size="10.8" >
<text x="1178.5" y="19.0">1,800.0000</text>
<text x="1178.5" y="47.9">1,700.0000</text>
<text x="1178.5" y="76.9">1,600.0000</text>
<text x="1178.5" y="105.8">1,500.0000</text>
<text x="1178.5" y="134.7">1,400.0000</text>
<text x="1178.5" y="163.7">1,300.0000</text>
<text x="1178.5" y="192.6">1,200.0000</text>
<text x="1178.5" y="221.5">1,100.0000</text>
<text x="1178.5" y="250.4">1,000.0000</text>
<text x="1178.5" y="279.4">900.0000</text>
<text x="1178.5" y="308.3">800.0000</text>
<text x="1178.5" y="337.2">700.0000</text>
<text x="1178.5" y="366.2">600.0000</text>
<text x="1178.5" y="395.1">500.0000</text>
<text x="1178.5" y="462.2">50.0000</text>
<text x="1178.5" y="488.8">0.0000</text>
<text x="1178.5" y="532.1">-0.0000</text>
</g>
<g stroke="#666" stroke-width="1">
<line x1="-6.00" y1="553.4" x2="-6.00" y2="555.8"/>
<line x1="24.30" y1="553.4" x2="24.30" y2="555.8"/>
<line x1="54.60" y1="553.4" x2="54.60" y2="555.8"/>
<line x1="84.90" y1="553.4" x2="84.90" y2="555.8"/>
<line x1="115.20" y1="553.4" x2="115.20" y2="555.8"/>
<line x1="145.50" y1="553.4" x2="145.50" y2="555.8"/>
<line x1="175.80" y1="553.4" x2="175.80" y2="555.8"/>
<line x1="206.10" y1="553.4" x2="206.10" y2="555.8"/>
<line x1="236.40" y1="553.4" x2="236.40" y2="555.8"/>
<line x1="266.70" y1="553.4" x2="266.70" y2="555.8"/>
<line x1="302.05" y1="553.4" x2="302.05" y2="555.8"/>
<line x1="332.35" y1="553.4" x2="332.35" y2="555.8"/>
<line x1="362.65" y1="553.4" x2="362.65" y2="555.8"/>
<line x1="392.95" y1="553.4" x2="392.95" y2="555.8"/>
<line x1="423.25" y1="553.4" x2="423.25" y2="555.8"/>
<line x1="453.55" y1="553.4" x2="453.55" y2="555.8"/>
<line x1="483.85" y1="553.4" x2="483.85" y2="555.8"/>
<line x1="514.15" y1="553.4" x2="514.15" y2="555.8"/>
<line x1="544.45" y1="553.4" x2="544.45" y2="555.8"/>
<line x1="574.75" y1="553.4" x2="574.75" y2="555.8"/>
<line x1="610.10" y1="553.4" x2="610.10" y2="555.8"/>
<line x1="640.40" y1="553.4" x2="640.40" y2="555.8"/>
<line x1="670.70" y1="553.4" x2="670.70" y2="555.8"/>
<line x1="701.00" y1="553.4" x2="701.00" y2="555.8"/>
<line x1="731.30" y1="553.4" x2="731.30" y2="555.8"/>
<line x1="766.65" y1="553.4" x2="766.65" y2="555.8"/>
<line x1="796.95" y1="553.4" x2="796.95" y2="555.8"/>
<line x1="827.25" y1="553.4" x2="827.25" y2="555.8"/>
<line x1="857.55" y1="553.4" x2="857.55" y2="555.8"/>
<line x1="887.85" y1="553.4" x2="887.85" y2="555.8"/>
<line x1="918.15" y1="553.4" x2="918.15" y2="555.8"/>
<line x1="948.45" y1="553.4" x2="948.45" y2="555.8"/>
<line x1="978.75" y1="553.4" x2="978.75" y2="555.8"/>
<line x1="1009.05" y1="553.4" x2="1009.05" y2="555.8"/>
<line x1="1039.35" y1="553.4" x2="1039.35" y2="555.8"/>
<line x1="1075.20" y1="553.4" x2="1075.20" y2="555.8"/>
<line x1="1094.90" y1="553.4" x2="1094.90" y2="555.8"/>
<line x1="1115.10" y1="553.4" x2="1115.10" y2="555.8"/>
<line x1="1135.30" y1="553.4" x2="1135.30" y2="555.8"/>
</g>
<g fill="#5c5c5c" font-size="10.8" text-anchor="middle">
<text x="-5.40" y="570">Apr</text>
<text x="24.90" y="570">7</text>
<text x="55.20" y="570">13</text>
<text x="85.50" y="570">19</text>
<text x="115.80" y="570">25</text>
<text x="146.10" y="570">May</text>
<text x="176.40" y="570">7</text>
<text x="206.70" y="570">13</text>
<text x="237.00" y="570">19</text>
<text x="267.30" y="570">25</text>
<text x="302.65" y="570">Jun</text>
<text x="332.95" y="570">7</text>
<text x="363.25" y="570">13</text>
<text x="393.55" y="570">19</text>
<text x="423.85" y="570">25</text>
<text x="454.15" y="570">Jul</text>
<text x="484.45" y="570">7</text>
<text x="514.75" y="570">13</text>
<text x="545.05" y="570">19</text>
<text x="575.35" y="570">25</text>
<text x="610.70" y="570">Aug</text>
<text x="641.00" y="570">7</text>
<text x="671.30" y="570">13</text>
<text x="701.60" y="570">19</text>
<text x="731.90" y="570">25</text>
<text x="767.25" y="570">Sep</text>
<text x="797.55" y="570">7</text>
<text x="827.85" y="570">13</text>
<text x="858.15" y="570">19</text>
<text x="888.45" y="570">25</text>
<text x="918.75" y="570">Oct</text>
<text x="949.05" y="570">7</text>
<text x="979.35" y="570">13</text>
<text x="1009.65" y="570">19</text>
<text x="1039.95" y="570">25</text>
<text x="1075.80" y="570">Nov</text>
<text x="1095.50" y="570">5</text>
<text x="1115.70" y="570">9</text>
<text x="1135.90" y="570">13</text>
</g>
<line x1="0" y1="587.4" x2="1256" y2="587.4" stroke="#e6e6e6" stroke-width="1"/>
<path d="M703,557 L733.4,557 L736.2,554.4 L739,557 L770,557 L770,571.8 L703,571.8 Z" fill="#6e6e6e" fill-opacity="0.9"/>
<text x="736.6" y="568.8" font-size="11" font-weight="bold" fill="#fff" text-anchor="middle">08/26/2018</text>
<path d="M1167.6,148.9 L1174.8,142.3 L1242.8,142.3 L1242.8,155.5 L1174.8,155.5 Z" fill="#2e4a73"/>
<text x="1178.2" y="152.9" font-size="11" font-weight="bold" fill="#fff">1,337.33043</text>
<path d="M1167.2,382.9 L1173.6,376 L1233.8,376 L1233.8,389.8 L1173.6,389.8 Z" fill="#2e4a73"/>
<text x="1178.2" y="386.9" font-size="11" font-weight="bold" fill="#fff">529.36782</text>
<rect x="1042.2" y="9" width="118.8" height="158.8" fill="#ffffff" fill-opacity="0.85"/>
<g font-size="10" font-weight="bold" fill="#fff" stroke="#fff" stroke-width="0.3">
<rect x="1042.2" y="9" width="118.8" height="14.7" fill="#787878" fill-opacity="0.88" stroke="none"/>
<text x="1154.8" y="20.5" text-anchor="end">08/26/2018</text>
<rect x="1042.2" y="25" width="118.8" height="14.7" fill="#5f5f5f" fill-opacity="0.92" stroke="none"/>
<text x="1048.8" y="36.5">BCH/USD</text>
<rect x="1042.2" y="41" width="118.8" height="14.7" fill="#787878" fill-opacity="0.88" stroke="none"/>
<rect x="1042.2" y="41" width="3" height="14.7" fill="#3a8b76" fill-opacity="0.85" stroke="none"/>
<text x="1048.8" y="52.5">Open</text>
<text x="1154.8" y="52.5" text-anchor="end">536.72590</text>
<rect x="1042.2" y="57" width="118.8" height="14.7" fill="#787878" fill-opacity="0.88" stroke="none"/>
<rect x="1042.2" y="57" width="3" height="14.7" fill="#3a8b76" fill-opacity="0.85" stroke="none"/>
<text x="1048.8" y="68.5">High</text>
<text x="1154.8" y="68.5" text-anchor="end">536.72590</text>
<rect x="1042.2" y="73" width="118.8" height="14.7" fill="#787878" fill-opacity="0.88" stroke="none"/>
<rect x="1042.2" y="73" width="3" height="14.7" fill="#3a8b76" fill-opacity="0.85" stroke="none"/>
<text x="1048.8" y="84.5">Low</text>
<text x="1154.8" y="84.5" text-anchor="end">515.42457</text>
<rect x="1042.2" y="89" width="118.8" height="14.7" fill="#787878" fill-opacity="0.88" stroke="none"/>
<rect x="1042.2" y="89" width="3" height="14.7" fill="#3a8b76" fill-opacity="0.85" stroke="none"/>
<text x="1048.8" y="100.5">Close</text>
<text x="1154.8" y="100.5" text-anchor="end">524.19837</text>
<rect x="1042.2" y="105" width="118.8" height="14.7" fill="#787878" fill-opacity="0.88" stroke="none"/>
<rect x="1042.2" y="105" width="3" height="14.7" fill="#3a8b76" fill-opacity="0.85" stroke="none"/>
<text x="1048.8" y="116.5">Volume</text>
<text x="1154.8" y="116.5" text-anchor="end">0</text>
<rect x="1042.2" y="121" width="118.8" height="14.7" fill="#787878" fill-opacity="0.88" stroke="none"/>
<rect x="1042.2" y="121" width="3" height="14.7" fill="#d2691e" fill-opacity="0.85" stroke="none"/>
<text x="1048.8" y="132.5">MovS</text>
<text x="1154.8" y="132.5" text-anchor="end">968.37811</text>
<rect x="1042.2" y="137" width="118.8" height="14.7" fill="#787878" fill-opacity="0.88" stroke="none"/>
<rect x="1042.2" y="137" width="3" height="14.7" fill="#b5a01e" fill-opacity="0.85" stroke="none"/>
<text x="1048.8" y="148.5">MovS</text>
<text x="1154.8" y="148.5" text-anchor="end">801.75320</text>
<rect x="1042.2" y="153" width="118.8" height="14.7" fill="#787878" fill-opacity="0.88" stroke="none"/>
<rect x="1042.2" y="153" width="3" height="14.7" fill="#2eb82e" fill-opacity="0.85" stroke="none"/>
<text x="1048.8" y="164.5">MovS</text>
<text x="1154.8" y="164.5" text-anchor="end">680.49673</text>
</g>
<rect x="1037.4" y="438.4" width="123.4" height="14.3" fill="#787878" fill-opacity="0.88"/>
<rect x="1037.4" y="438.4" width="2.6" height="14.3" fill="#1a2fb0"/>
<text x="1046.8" y="449.29999999999995" font-size="10" font-weight="bold" fill="#fff" stroke="#fff" stroke-width="0.3">RSI</text>
<text x="1154.6" y="449.29999999999995" font-size="10" font-weight="bold" fill="#fff" stroke="#fff" stroke-width="0.3" text-anchor="end">38.56696</text>
<rect x="1037.4" y="505.4" width="123.4" height="14.3" fill="#787878" fill-opacity="0.88"/>
<rect x="1037.4" y="505.4" width="2.6" height="14.3" fill="#1a2fb0"/>
<text x="1046.8" y="516.3" font-size="10" font-weight="bold" fill="#fff" stroke="#fff" stroke-width="0.3">MOM</text>
<text x="1154.6" y="516.3" font-size="10" font-weight="bold" fill="#fff" stroke="#fff" stroke-width="0.3" text-anchor="end">-166.63603</text>
</svg></body></html>
